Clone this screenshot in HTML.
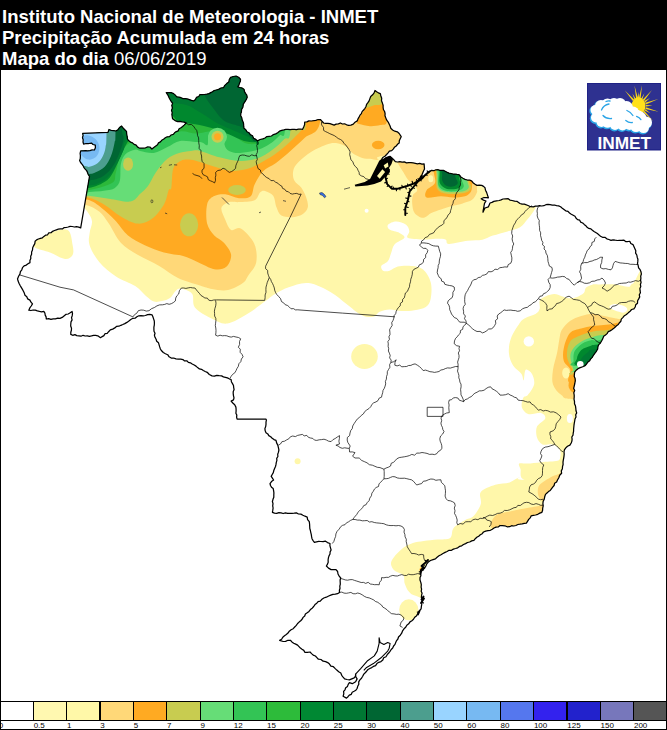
<!DOCTYPE html>
<html><head><meta charset="utf-8"><style>
html,body{margin:0;padding:0;background:#fff}
body{width:667px;height:730px;position:relative;overflow:hidden;font-family:"Liberation Sans",sans-serif}
#hdr{position:absolute;left:0;top:0;width:667px;height:70px;background:#000;color:#fff}
#hdr div{position:absolute;left:2px;font-size:18.5px;font-weight:bold;white-space:nowrap;line-height:21px}
.lb{position:absolute;top:720.5px;font-size:8px;line-height:9px;color:#000;white-space:nowrap}
</style></head><body>
<div id="hdr">
<div style="top:5.5px">Instituto Nacional de Meteorologia - INMET</div>
<div style="top:26.5px">Precipitação Acumulada em 24 horas</div>
<div style="top:47.5px">Mapa do dia <span style="font-weight:normal">06/06/2019</span></div>
</div>
<svg width="667" height="730" viewBox="0 0 667 730" style="position:absolute;left:0;top:0">
<defs><clipPath id="br"><path d="M17.5,278.9 18.6,276.3 20,273.9 20.4,271.6 21.8,269.8 22.5,267.6 24.1,265.9 26.3,265.1 28,263.7 30,262.6 29.9,260.4 30.8,258.4 30.7,256.2 31.6,254.2 31.6,252 32.5,250 32.7,247.7 33.7,245.6 34.8,243.6 35.1,241.3 36.6,239.9 38.4,239 40.4,238.4 42.4,237.8 43.9,236.4 45.5,235.2 47.6,234.8 48.8,232.8 51.1,232.7 52.6,231.3 54.5,230.5 56.4,229.8 58.3,229.2 60.3,228.9 62.4,228.9 64.2,227.6 66.2,227.5 68.2,227 70.1,226.3 72.2,226.5 74.3,227 76.5,226.7 78.7,227.1 80.7,227.9 89.5,176.3 88.2,174.5 87.5,172.4 86.6,170.6 85.2,169.1 84,167.5 83.1,165.7 81.9,164.1 80.6,162.5 79.7,160.7 80.3,158.3 80.4,155.8 80.1,153.3 80.7,150.9 83,150.8 85.3,150.6 87.6,150.9 89.9,150.6 92.1,149.9 94.4,150 95.4,147.7 95.3,145.1 93.1,144.5 91.4,143.1 88.8,143.5 86.2,143.5 83.6,144.1 83,142 83.2,139.8 82.5,137.7 83.1,135.5 82.7,133.4 108,132.4 109,129.5 111.2,130.3 113.5,130.6 115.8,131 118,129.7 119.5,127.5 121.6,126 123.1,128 124.8,129.7 126.5,131.4 126.7,134 127.2,136.6 127.5,139.2 128.9,140.8 130.5,142.1 132.5,142.9 134.1,144.4 136.2,145.1 137.4,146.9 139.2,148 141.4,148 143.5,148.2 145.7,147.8 147.7,146.9 149.9,147 151.9,149 153.8,147.4 155.8,146 157.5,144.8 158.5,142.9 160.4,141.9 161.7,140.3 163.5,139.2 165.3,137.8 167.2,136.8 169.5,136.6 171.1,135 173.3,134.4 174.6,132.8 176.3,131.6 178.2,130.8 179.1,128.7 181,127.7 182.6,126.5 184.1,125.1 186.2,123 184.2,122.1 182.1,121.8 180,121.3 177.7,121.6 175.7,120.9 172.6,118.8 172.2,116.7 171.9,114.6 172.2,112.4 171.5,110.4 172.4,108 171.8,105.5 172.6,103.1 171.2,101.5 170.2,99.8 169.2,98 168.4,96.1 167.4,94.3 166.3,92.6 168.8,92.7 171.2,92.7 173.6,93.6 175.3,95.1 176.8,96.8 178.9,97.1 181,97.7 183,98.6 185.2,98.7 187.3,98.9 189.4,99.6 191.5,100.4 193.6,101 195.4,99.5 196.4,97.4 198.7,96.5 200,94.5 202.3,94.6 204.5,94.5 206.8,94.2 209,93.6 210.7,92.6 212.5,91.7 214.2,90.5 216.2,90 218.6,89.4 220.8,88 223.4,87.7 224.8,85.4 226.7,83.6 228.8,81.9 229.3,79.5 230.6,77.4 233.3,76.5 236,76 238.6,77.2 240.5,79.2 240.4,81.3 239.5,83.1 238.9,85.1 237.8,86.8 240,87.5 242.2,88.1 244.1,89.5 244.5,91.6 245.5,93.4 246.8,95.1 247.2,97.2 246.5,99.1 245.4,100.9 244.3,102.7 243.2,104.4 243,107 241.6,109.4 241.4,112 240.8,113.6 240.7,115.8 241.8,117.8 242.2,119.9 243.1,121.9 243.6,124 243.7,126.2 244,128.3 245.8,129.7 246.9,131.7 249,132.7 250.3,134.6 252.5,135.7 253.6,138.2 255.8,139.4 257.6,140.9 260.1,139.5 262.9,138.8 265,138 266.9,136.6 269.2,136.3 271.5,136 273.4,134.6 275.7,133.9 277.7,132.7 279.5,131.2 281.7,130.4 283.8,129.9 285.8,129.3 288,129.3 290.1,129.6 292.2,129.3 294.3,129.3 296.4,129.6 298.5,129.1 300.5,129 302.6,129.3 303.7,127 304.6,124.6 304.7,122 306.9,121.9 308.9,120.9 311.2,121 313.5,120.7 315.8,120.3 318.1,119.5 320.4,119.5 322,121.3 323.6,123 325.7,123.3 327.9,123.3 330,123.7 332.1,124.4 334.1,125.1 336.1,124.1 338.4,123.9 340.4,123 342.4,124 344.6,123.8 346.6,124.8 348.7,125.3 350.9,125.1 353.3,124.2 355,122.2 357.2,120.9 358,118.9 359,117.1 360,115.2 361.4,113.6 362.1,111.6 363.6,110 365,108.3 366,106.5 366.6,104.4 367.9,102.7 369.1,100.9 369.8,98.9 370.7,96.5 372.6,94.8 374.1,92.9 375,90.5 376.6,91.8 378.4,92.8 380.3,93.6 380.9,96 381.7,98.3 381.5,100.8 382.4,103.1 383.1,105.2 383.1,107.4 383.4,109.5 384.6,111.5 385.1,113.6 385,115.8 385.8,117.9 386.6,119.9 388,121.8 389.1,123.9 390.1,126 390.8,128.3 392.6,130 394.8,131.2 397.3,131.8 399.2,133.5 401.2,136.7 400.2,138.7 399.3,140.7 399.2,143 397.5,144.3 396.2,146 394.4,147.3 393.2,149.1 391.7,150.6 389.4,151.2 388.1,152.9 386.6,154.5 384.9,156.2 382.8,157.5 381.5,159.6 379.7,161.2 381.9,160.6 383.9,159.6 385.7,157.9 387.7,157 389.9,156.3 391.9,157.9 393.7,159.7 395.3,161.7 397.5,162 399.8,161.7 402.1,162.1 404.3,161.9 406.5,162.9 408.8,162.6 411,162.6 413.2,162.9 415.3,163.3 417.5,163.8 419.7,163.4 421.9,164.2 424.1,163.9 424.3,166.4 424.5,168.9 423.4,171.3 422.4,173.7 421.4,176.1 420.5,178.6 418.7,180.6 422,178.5 423.4,176.8 425,175.2 427,173.1 429.5,171.6 431.4,170.4 433.8,170.7 435.8,169.8 437.9,169.7 439.8,170.4 443.4,170.4 445.2,171.3 447,172.2 448.9,173.1 451,173.5 453,174 455,174 457,174.4 459,174.6 460.8,177 462.9,178.3 465,179.4 467.3,180 469.7,180 471.8,181.1 473.3,183 475.1,184.3 476.9,185.4 479.3,185.1 481.7,185.4 483.5,186.4 485,187.8 485.5,190.2 486.6,192.4 487.5,195.1 488.4,197.8 486.2,197.6 484,197.5 481.2,198.7 483.5,200.1 486,201 484.5,203.3 484,206 483.7,208.1 483.2,210.1 483,212.2 484,210.1 485,208 488.4,206.8 489.2,204.9 490,203 492,202.4 493.8,201.4 496.5,200.9 499.2,200.5 501.1,199.8 503,199 505.6,198.8 508.2,198.7 509.9,200.1 512,200.5 514.6,201.2 517.2,201.4 520,203.5 522.1,204.2 524.4,204.1 528,205.5 530.6,206.7 533.4,206.8 535.4,206.1 537.5,206.1 539.6,205.7 541.8,206 543.8,205.7 545.9,204.7 548,204.4 550.1,204.7 552.2,205.1 554.4,205 556.5,205.7 558.6,205.9 560.6,206.8 562.3,208.2 564,209.5 565.7,210.8 568,211.3 569.5,213 571.3,214.2 573.2,215.2 575,216.2 576.1,218.2 577.6,219.6 579.7,220.2 580.7,222.2 582.7,223 584.2,224.4 585.8,225.7 587.1,227.3 588.8,228.4 590.9,228.9 592.4,230.3 594,231.5 595.7,232.5 597.4,233.6 599,234.9 600.5,236.2 602.5,237.3 604.9,237.3 606.8,238.8 608.9,239.5 611,240.4 613.1,239.8 615.2,240.2 617.3,240.5 619.4,240.4 621.5,240.4 623.7,240.1 625.6,241.5 627.8,241.5 629.9,241.4 630.8,243.5 633,244.6 634,246.7 634.9,248.7 635.8,250.7 635.6,253.1 636.8,255 637.2,257.2 637.9,259.2 637.8,261.4 637.5,263.6 638.2,265.6 638.6,267.8 640.1,269.7 641,271.8 641.4,274 640.7,276.1 640.9,278.2 640.6,280.3 641.1,282.4 640.4,284.5 640.8,286.6 639.9,288.6 640.1,290.7 640.4,292.8 639.3,294.8 639.7,296.9 638.7,298.9 637.6,300.8 637.5,303.2 635.7,304.8 635.2,307 633.9,308.8 631.6,309.5 630.2,311.2 628.5,312.6 626.4,314.5 624,316 622.8,317.6 621.3,319.1 620.9,321.2 619.5,322.7 618.3,324.5 616.5,325.7 615,327.2 613.5,328.6 611.9,329.8 610.1,330.9 608.2,331.7 607.1,333.6 605.5,335 603.7,336.2 602.8,338.6 601.7,340.8 600.4,343 598.8,344.6 597.9,346.7 597.7,349 596.4,351.3 594.8,353.3 593.3,355.5 592.2,357.4 590.7,358.9 589.7,360.8 587.9,362.1 586.6,363.8 585.4,365.4 583.5,366.5 580.2,367.6 578,368.7 576.2,370.2 574.7,372 574.4,374.1 574.2,376.3 575.1,378.4 575.3,380.7 574.8,383.5 574.2,386.2 573.7,388.4 574.7,390.6 573.8,392.8 574.2,395 574.2,397.1 574,399.2 574.5,401.5 574.5,403.8 575.5,406 575.8,408.3 576,410.7 576.7,412.9 575.7,414.8 576,417 575,419 574.7,421 574.3,423.1 574,425.2 573.8,427.2 573.6,429.2 573.6,431.2 573.2,433.2 573,435.2 571.8,437 572.1,439.1 571.9,441.1 571.2,443 569.9,445.1 567.5,446.2 565.8,447.9 564.4,449.9 564,451.9 564.2,454 564,456.1 563.7,458.1 563.3,460.2 563,462.2 563.1,464.5 562.5,466.6 562.4,468.8 561.3,470.9 561.6,473.2 559.7,475.2 558.8,477.7 557.5,480 556.6,482 554.6,483.3 554.1,485.5 552.7,487.2 551.4,488.8 550.2,490.5 548.5,491.6 547,493 545.5,494.4 544.7,496.8 544.2,499.3 543.1,501.6 542.9,503.7 543.2,505.9 542.7,508.1 542.6,510.2 541.9,512.3 539.8,513.1 537.8,514.3 535.6,515 533.3,515.4 531.1,515.9 530.2,517.9 528.7,519.4 527.5,521.3 526.4,523.1 524.2,523.3 522.2,523.8 520,524.2 517.9,524.5 515.9,525.5 513.8,526 511.6,525.7 509.6,526.7 507.1,526.8 504.8,525.8 502.4,525.6 500,525.5 498.3,526.9 496,527.1 494,528 492.3,529.2 490.4,530.3 488,530.6 485.7,531.1 483.5,532 482.2,533.7 480.3,534.8 478.7,536.2 476.8,537.3 475.3,538.7 473.9,540.4 471.7,540.9 469.7,542 467.5,542.5 465.6,543.6 463.5,544.5 461.7,545.8 459.5,546.4 457.7,547.8 455.6,548.5 453.4,549.1 451.5,550.3 449.1,550.3 447.1,551.5 445.1,552.4 443,553.5 441,554.7 439,555.8 437.1,557.2 435.4,558.9 433.1,559.6 430.5,560.5 428.3,562 426.8,563.8 425.9,566 424.7,568 422.9,569.8 421.1,571.6 420.5,573.6 420.9,575.7 420,577.6 420,580 420.8,582.4 421.3,584.7 421.1,587.2 421.6,589.2 421.2,591.2 422.1,593.2 421.6,595.2 421.5,597.3 422.3,599.2 422,601.6 421.8,604 421.4,606.4 421.1,608.8 419.7,610.5 418.5,612.2 417.5,614.1 416.4,616 414.7,617.3 413.5,619.3 411.9,620.7 410,621.9 408.7,623.8 406.8,625.2 405.7,627.2 404,628.8 402.6,630.8 401.7,633.2 400.3,635.2 398.5,637 397.9,639 396.6,640.6 395.7,642.5 395,644.4 393.6,646 392.7,648 391.2,649.5 390,651.3 388.7,653 387.2,654.7 386,656.7 383.7,657.8 382.8,660.1 381,661.6 378.8,662.3 376.9,663.6 375.6,665.7 373.4,666.4 371.7,667.6 369.8,668.5 368,669.5 366.6,671.2 365.2,672.7 363.8,674.1 362.7,676.2 361.5,678.2 359.9,679.9 358.7,681.9 358.8,684.3 357.7,686.3 357.1,688.5 355.9,690.2 354.1,691.2 352.2,692.2 351.3,694.3 349.3,695.1 348,696.7 346.5,698.1 343.1,696.2 343.8,693.8 343.6,691.4 345,689.8 345.7,687.7 347.5,686.4 348.2,684.4 349.4,682.7 352.3,683.7 355.6,681.8 357.1,678.9 355.8,676.7 355.6,674.1 355.5,676.2 354.2,677.9 351.8,678.9 349.4,679.9 347,679.5 344.6,678.9 343.1,677.1 341.7,675.3 340.8,673.1 338.7,671.7 336.8,670.1 335,668.4 333.4,666.7 330.9,666.2 329.5,664.1 327.7,662.6 325.6,661.6 323.1,661.2 321,659.5 318.4,659.2 316.9,657.6 315.4,656 313.2,655.1 311.6,653.6 310,652 307.4,652.3 304.8,652.3 303.8,650.4 302,649.3 300.4,648.1 299,646.6 297.6,645.1 295.7,644.1 293.7,643.2 291.9,641.9 290.4,640.3 287.9,640.3 285.6,641.4 283.2,641.5 279.6,640.3 281.6,639.3 282.8,637.2 284.5,635.8 286.3,634.5 288,633.1 289.3,631.2 291.1,629.8 293.2,628.7 294.7,627 296.3,625.4 297.6,623.5 299.1,622.1 300.7,620.8 302.1,619.3 303.1,617.4 304.7,616 305.4,614 307.2,612.8 309,611.4 310.4,609.6 312.2,608.2 313.7,606.5 315,604.6 316.8,603.2 318.1,601.6 320.3,601.2 321.6,599.6 323.8,598 326.3,597.2 328.7,596 330.8,595.1 332.9,594.3 335.3,594.1 337.5,593.7 339.5,592.4 339.4,590.3 340,588.3 339.8,586.2 340.3,584.2 340.2,582.1 340.1,580 340.7,578 339.2,576.1 338,574 337.6,571.5 336,569.6 333.6,569.6 331.1,569.6 328.5,568.1 326.4,566 327.5,564.1 328.2,562.2 328.1,560 328.4,557.9 329,555.9 330,554 330.1,551.9 331.1,550 330.5,547.9 329.9,545.7 330,543.5 327.5,542.6 325.2,541.1 323.1,541.6 320.9,541.5 318.7,541.4 316.5,541.8 314.4,542.3 313.1,540.6 312,538.7 311.6,536.7 311.3,534.6 310.8,532.6 310.4,530.5 309.8,528.5 309.7,526.4 309.6,524.3 309.3,521.7 307.6,519.6 307.2,517.1 305,516.2 302.9,515.2 300.9,514.1 298.4,514 296.4,512.8 294.2,513.2 292,513.3 289.8,513.3 287.6,513.3 285.4,512.8 283.2,513.5 281.1,512.8 278.9,512.6 276.7,513.4 274.5,513.1 272.4,512.3 272.8,510.2 273.1,508 272.7,505.8 273,503.7 272.4,501.5 273,499.3 273.8,497.2 273.8,495 273.9,492.9 273.6,490.7 273.2,488.6 271.5,487.2 270.5,485.5 270,483.5 271.5,481.5 273.6,480 272.4,478.2 271.2,476.4 272.2,474.5 273.3,472.6 273.8,470.5 274.6,468.5 275.5,466.5 276,464.4 276.3,462.4 276.9,460.4 276.7,458.3 277.9,456.5 277.7,454.3 278.4,452.4 278.9,450 278.4,447.6 277.8,445.1 276.6,442.9 276,440.4 274,439.6 272.2,438.2 270.7,436.7 268.8,435.6 267.8,433.9 266,432.7 265.2,430.8 264.9,428.6 265.7,426.5 266,424.3 266,422.1 266.4,420 265.9,419.1 237.1,419.1 236.6,417.1 236.8,415.1 235.9,413.2 236.1,411.1 236.1,409.1 235.9,407.1 234.7,404.8 232.8,403 231.1,401.1 233.5,399.9 234,397.8 233.5,395.8 233.2,393.7 233.2,391.7 234.1,389.6 233.7,387.6 233.5,385.5 232.5,383.6 231.4,381.7 231.1,379.5 229.2,378.8 227.4,377.9 225.4,377.4 223.4,376.9 221.6,375.9 219.2,375.7 216.8,375.4 214.4,376.2 212,375.9 209.3,374.5 207.2,372.3 205.2,371.5 203.3,370.5 201.5,369.3 199.4,368.9 197.6,367.6 196,366.1 194.2,365 192.2,364 190.4,362.8 188.4,362.4 186.8,360.8 184.6,360.9 182.9,359.6 180.8,359.2 178.4,359.2 176,358.9 173.6,358 171.2,358 169.1,356.8 167.7,354.7 165.4,353.7 163.3,352.5 161.6,350.8 160.4,349 159.7,346.9 159.1,344.9 158.5,342.8 156.7,341.2 156.1,339.2 155,337.3 154.4,335.2 155,333.2 154,331.2 153.9,329.2 153.9,327.2 154.3,325.2 154.4,323.2 154.3,321 153.6,318.9 152.9,316.8 152,314.8 149.8,314.4 147.6,314.6 145.4,315.5 143.2,315.8 141,315.6 138.8,315.8 136.9,316.7 135.1,318.2 132.9,318.3 130.8,319.5 128.9,321.1 126.9,322.4 124.8,323.6 122.8,324.5 120.9,325.3 118.9,326.2 116.7,326.3 114.8,327.9 112.7,329.1 110.3,329.9 108.6,331.7 107.2,333.3 105,333.7 103.9,335.6 102.2,336.6 100.5,337.7 97.8,335.8 95.7,335.4 93.6,335.4 91.5,335.9 89.4,336.3 87.3,335.8 85.2,336 83.1,335.3 81,336.2 78.9,335.8 76.8,335.6 74.9,334.6 72.7,335.3 70.8,334.4 70.8,332.3 71.4,330.3 71.5,328.2 70.7,326 70.8,324 71,321.9 72.1,319.9 71.5,317.7 72.2,315.7 72.5,313.6 72.1,311.5 70.2,312.8 68.2,314 65.8,314.4 64,315.9 62.2,317.4 60,318.3 57.7,318.2 55.4,318.8 53.2,318.9 50.9,319.4 48.6,318.6 46.3,319 46.1,316.9 45.2,315.1 44.9,313.1 43.8,311.4 41.6,311.8 39.5,311.4 37.4,310.9 35.3,310.2 33.1,310 30.9,310.5 28.8,310.2 29.8,307.9 31.2,306 32.5,303.9 31,302.2 29.9,300.1 27.7,298.9 26.8,296.7 25,295.2 24.3,293.1 23.3,291 22.3,289.1 21.1,287.1 20,285.2 19,283.2 18.1,281.1 17.5,278.9Z"/></clipPath></defs>
<g clip-path="url(#br)">
<path d="M60,60C128.3,36.7 401.5,45 470,60C538.5,75 469.3,129.2 471,150C472.7,170.8 469.2,175.7 480,185C490.8,194.3 526.7,202.4 536,206C545.3,209.6 536.4,205.9 536,206.7C535.6,207.5 535.2,208.8 533.8,210.9C532.4,213 529.8,216.6 527.5,219.3C525.2,222 523.4,225.2 520.1,227.2C516.8,229.2 512,230 507.5,231.4C503,232.8 497.1,234.2 492.9,235.6C488.7,237 486.6,238.9 482.4,239.8C478.2,240.7 473.3,240.1 467.7,240.8C462.1,241.5 452.5,244.2 448.8,244C445.1,243.8 447.7,240.4 445.5,239.5C443.3,238.6 439.5,238.7 435.7,238.7C431.9,238.7 427.2,239.7 422.5,239.5C417.8,239.3 409.9,239.2 407.7,237.8C405.5,236.4 409.6,233.5 409.3,231.3C409,229.1 408.3,226.3 406.1,224.7C403.9,223 399.2,221.4 396.2,221.4C393.2,221.4 389.1,223.3 388,224.7C386.9,226.1 387.7,228.2 389.6,229.6C391.5,231 397,231.5 399.5,232.9C402,234.3 405.2,235.9 404.4,237.8C403.6,239.7 396.7,241.9 394.5,244.4C392.3,246.9 392.4,249.8 391.3,252.6C390.2,255.3 389.6,258.7 388,260.9C386.4,263.1 382.2,264.2 381.4,265.8C380.6,267.4 381.6,269.9 383,270.7C384.4,271.5 387.1,271.4 389.6,270.7C392.1,270 394.5,267.4 397.8,266.6C401.1,265.8 405.2,265.4 409.3,265.8C413.4,266.2 418.9,266.4 422.5,269.1C426.1,271.8 429.3,277.3 430.7,282.2C432.1,287.1 431.5,294.6 430.7,298.7C429.9,302.8 428.5,305 425.8,306.9C423.1,308.8 418.4,309.5 414.3,310.2C410.2,310.9 405.2,311.1 401.1,311C397,310.9 393.2,309.3 389.6,309.4C386,309.5 382.4,310.6 379.7,311.8C377,313 376.3,316.3 373.2,316.8C370.1,317.3 365.7,317.1 361.2,314.9C356.7,312.7 351.2,307.4 346.2,303.7C341.2,299.9 337.4,295.8 331.2,292.4C324.9,289 315.8,284 308.7,283.1C301.6,282.2 294.4,285.3 288.7,287.2C283,289.1 278.3,292 274.3,294.4C270.3,296.8 269.1,298.4 264.7,301.6C260.3,304.8 254.2,309.9 248,313.6C241.8,317.3 233.5,322.8 227.3,323.6C221.2,324.4 216.5,321 211.1,318.3C205.7,315.6 198.1,311.6 194.9,307.5C191.8,303.4 194.4,297.1 192.2,294C189.9,290.9 184.1,289.2 181.4,288.6C178.7,288.1 177.8,289.1 175.9,290.7C174,292.3 172.3,296.3 170,298C167.7,299.7 164.7,300.4 162,301C159.3,301.6 156.7,302.4 154,301.6C151.3,300.8 149.1,298.6 146,296C142.9,293.4 140.2,289.3 135.2,286C130.2,282.7 122,280.4 116,276.4C110,272.4 103.6,267.2 99.2,262C94.8,256.8 91.2,250 89.6,245.2C88,240.4 89.2,237.2 89.6,233.2C90,229.2 92.4,224.8 92,221.2C91.6,217.6 89.2,214.3 87.2,211.6C85.2,208.9 84.5,206.9 80,205C75.5,203.1 63.3,224.2 60,200C56.7,175.8 -8.3,83.3 60,60Z" fill="#fff7aa"/>
<path d="M35,241C37.5,238.6 44.6,234.8 50,233C55.4,231.2 63.8,228 67.6,230C71.4,232 71.8,240.8 72.6,245C73.4,249.2 73.9,252.7 72.6,255C71.3,257.3 68.8,259.4 65,259C61.2,258.6 55,254.5 50,252.6C45,250.7 37.5,249.5 35,247.6C32.5,245.7 32.5,243.4 35,241Z" fill="#fff7aa"/>
<path d="M60,60C130,36.7 410,45 480,60C550,75 495.6,134.1 480,150C464.4,165.9 403.6,154 386.6,155.6C369.6,157.2 381,159.3 378.2,159.8C375.4,160.3 372.7,159 370,158.7C367.3,158.4 365.1,158.9 362.2,157.9C359.2,156.9 355,154.8 352.3,152.9C349.6,151 348.5,148 345.8,146.3C343.1,144.7 339.2,143.3 335.9,143C332.6,142.7 330.4,143 326,144.7C321.6,146.3 314.4,149.6 309.5,152.9C304.6,156.2 299.1,161.2 296.3,164.5C293.6,167.8 293.3,169.9 293,172.7C292.7,175.4 293.2,178.5 294.6,181C296,183.5 299.3,184.8 301.2,187.6C303.1,190.3 305.1,194.2 306.2,197.5C307.3,200.8 308.4,204.6 307.8,207.3C307.2,210.1 305.4,212.3 302.9,214C300.4,215.7 296.6,216.9 293,217.2C289.4,217.5 284.1,217.2 281.4,215.6C278.6,213.9 277.9,210.6 276.5,207.3C275.1,204 275.1,198.5 273.2,195.8C271.3,193.1 267.2,191.5 265,190.9C262.8,190.3 261.7,190.9 260,192.5C258.3,194.1 258.1,198.6 254.6,200.2C251.1,201.8 243.2,201.8 239,202.1C234.8,202.4 232.1,201.1 229.2,202.1C226.3,203.1 222.1,205.1 221.4,208C220.8,210.9 223.7,216 225.3,219.7C226.9,223.4 228.5,228.5 231.2,230C233.8,231.5 237.3,226.4 241.2,228.7C245,231 251.8,238.1 254.3,243.7C256.8,249.3 257.2,257.1 256.2,262.5C255.1,267.9 250.2,272.6 248,276C245.8,279.4 246.1,280.7 242.8,283C239.5,285.3 233.1,289 228,290C222.9,291 216.7,289.8 212,289C207.3,288.2 205.7,287.3 200,285.5C194.3,283.7 184.8,281.2 178,278C171.2,274.8 165.9,269.9 159.2,266C152.5,262.1 144,258.7 137.6,254.8C131.2,250.9 125.6,248 120.8,242.8C116,237.6 112.4,228.8 108.8,223.6C105.2,218.4 103.2,214.8 99.2,211.6C95.2,208.4 91.3,206.3 84.8,204.4C78.3,202.5 64.1,224.1 60,200C55.9,175.9 -10,83.3 60,60Z" fill="#ffd878"/>
<path d="M60,60C103.3,37.3 276.7,49.6 320,60C363.3,70.4 322.5,109.2 320,122.2C317.5,135.2 309.7,133 304.8,137.8C299.9,142.6 295.2,146.8 290.4,151C285.6,155.2 280.6,159.6 276,163C271.4,166.4 266.4,167.8 262.8,171.4C259.2,175 256.6,180.4 254.6,184.6C252.6,188.8 253.3,194 250.7,196.3C248.1,198.6 243.2,198.5 239,198.2C234.8,197.9 229.5,194.6 225.3,194.3C221.1,194 216.6,194.6 213.6,196.3C210.6,198 208.2,199.9 207.1,204.4C206,208.9 205.9,218.4 207.1,223.6C208.3,228.8 211.5,232.4 214.3,235.6C217.1,238.8 221.1,239.6 223.9,242.8C226.7,246 230.7,250.8 231.1,254.8C231.5,258.8 229.1,264.4 226.3,266.8C223.5,269.2 219.1,270 214.3,269.2C209.5,268.4 202.7,264.2 197.5,262C192.3,259.8 188.7,257.6 183.1,256C177.5,254.4 170.4,254.2 164,252.4C157.6,250.6 150.8,248 144.8,245.2C138.8,242.4 132.8,239.6 128,235.6C123.2,231.6 120.4,225.8 116,221.2C111.6,216.6 106.4,211.6 101.6,208C96.8,204.4 94.1,201.6 87.2,199.6C80.3,197.6 64.5,219.3 60,196C55.5,172.7 16.7,82.7 60,60Z" fill="#ffaa22"/>
<path d="M60,60C101,37.5 265,49.4 306,60C347,70.6 306.8,111.6 306,123.4C305.2,135.2 303.8,127.6 301.2,130.6C298.6,133.6 294.6,137.6 290.4,141.4C286.2,145.2 281.4,149.6 276,153.4C270.6,157.2 262.9,161.6 258,164.2C253.1,166.8 251.3,167.9 246.8,169C242.3,170.1 236.4,171.2 231.2,170.9C226,170.6 220.8,168.5 215.6,167C210.4,165.5 204.1,163.2 200,162C195.9,160.8 194,159.9 190.8,159.7C187.7,159.5 184,159.2 181.1,160.7C178.2,162.2 174.9,163.9 173.3,168.5C171.7,173.1 172.1,184.4 171.3,188C170.5,191.6 169.9,187.3 168.7,190C167.5,192.7 166.8,199.6 164,204.4C161.2,209.2 156.4,215.6 152,218.8C147.6,222 142.8,224 137.6,223.6C132.4,223.2 126.4,219.6 120.8,216.4C115.2,213.2 109.6,207.6 104,204.4C98.4,201.2 94.5,198.8 87.2,197.2C79.9,195.6 64.5,217.9 60,195C55.5,172.1 19,82.5 60,60Z" fill="#c8cc50"/>
<path d="M60,60C98.4,37.7 252,48.2 290.4,60C328.8,71.8 291.4,117.4 290.4,130.6C289.4,143.8 287.4,135.8 284.4,139C281.4,142.2 276.8,146.6 272.4,149.8C268,153 263.4,156.3 258,158.2C252.6,160.1 246.4,161.2 240,161C233.6,160.8 226.2,159 219.5,157.3C212.8,155.6 204.8,152 200,150.9C195.2,149.8 194.3,150.6 190.8,150.9C187.3,151.2 183,151.6 179.1,152.9C175.2,154.2 171.3,155.4 167.4,158.7C163.5,161.9 159,167.8 155.8,172.4C152.6,177 150.6,182.4 148,186C145.4,189.6 143.1,191.2 140.2,193.8C137.3,196.4 135.6,200.8 130.4,201.6C125.2,202.4 116,199.7 109,198.7C102,197.7 96.7,196.6 88.5,195.8C80.3,195 64.8,216.6 60,194C55.2,171.4 21.6,82.3 60,60Z" fill="#66dd77"/>
<path d="M60,60C97.5,38 247.5,48.5 285,60C322.5,71.5 285.9,116.4 285,129C284.1,141.6 282.1,132.9 279.6,135.4C277.1,137.9 273.6,141.4 270,143.8C266.4,146.2 263,148.3 258,149.8C253,151.3 244.8,152.8 240,153C235.2,153.2 231.6,152.4 229,151C226.4,149.6 225,147.1 224.5,144.5C224,141.9 226.8,138.2 226.2,135.7C225.6,133.2 223,130.5 221,129.5C219,128.5 216.1,128.6 214,129.5C211.9,130.4 209.6,132.4 208.5,135C207.4,137.6 208.6,143.8 207.5,145C206.4,146.2 204,143 202,142.5C200,142 199.4,142.3 195.7,142C192,141.7 184.7,140.1 180,140.9C175.3,141.7 171.8,145 167.4,147C163,149 158.3,152.2 153.8,152.9C149.3,153.6 143.3,151.4 140.2,150.9C137.1,150.4 137.5,149.1 135,149.7C132.5,150.2 127.8,151.8 125.4,154.2C123.1,156.6 121.8,159.8 120.9,164.1C120,168.4 120.8,176.2 120,180C119.2,183.8 117.8,185.3 116,187C114.2,188.7 113.4,189.2 109,190C104.6,190.8 97.7,191.6 89.5,191.9C81.3,192.2 64.9,214 60,192C55.1,170 22.5,82 60,60Z" fill="#33c455"/>
<path d="M60,60C92.8,38.3 224.2,47 257,60C289.8,73 256.8,124.2 257,138C257.2,151.8 259.2,142 258,143C256.8,144 252.5,144.3 250,144.1C247.5,143.9 245.9,143.6 243,142C240.1,140.4 235.5,136.6 232.5,134.7C229.5,132.8 227.7,131.3 225.1,130.4C222.5,129.5 219.5,129.2 216.7,129.4C213.9,129.6 211.8,130.8 208.3,131.5C204.8,132.2 200.4,133.6 195.7,133.6C191,133.6 185.9,130.6 180,131.5C174.1,132.4 165,136.9 160,139C155,141.1 153.5,142.5 150,144C146.5,145.5 141.7,147.9 139.2,148C136.7,148.1 136.7,145.1 135,144.3C133.3,143.5 131.2,142.2 129,143.4C126.8,144.6 123.6,148.3 121.8,151.5C120,154.7 119.2,158.6 118.2,162.3C117.2,166.1 116.5,170.6 115.5,174C114.5,177.4 116.5,180.3 112,183C107.5,185.7 97.2,188.8 88.5,190C79.8,191.2 64.8,211.7 60,190C55.2,168.3 27.2,81.7 60,60Z" fill="#2cb83a"/>
<path d="M60,60C92.8,38.7 224.2,47 257,60C289.8,73 256.8,124.3 257,138C257.2,151.7 260.2,141.5 258,142C255.8,142.5 248.8,142.1 244,140.9C239.2,139.7 234.6,136.7 229.3,134.6C224.1,132.5 218.4,130.1 212.5,128.3C206.6,126.6 199.2,125.1 193.6,124.1C188,123 182.6,123.4 178.9,122C175.2,120.6 174.7,116 171.5,115.7C168.3,115.4 166.1,116 160,120C153.9,124 140.2,136.6 135,140C129.8,143.4 130.6,139.7 129,140.7C127.4,141.7 126.9,143.2 125.4,146.1C123.9,148.9 122,153.6 120,157.8C118,162 116,167.4 113.7,171.3C111.4,175.2 110.2,178.2 106,181C101.8,183.8 96.2,186.8 88.5,188C80.8,189.2 64.8,209.3 60,188C55.2,166.7 27.2,81.3 60,60Z" fill="#00882e"/>
<path d="M60,60C92.7,39 223.3,47 256,60C288.7,73 255.7,124.5 256,138C256.3,151.5 258.9,141.1 257.6,140.9C256.3,140.7 252.2,138.4 248.2,136.7C244.2,134.9 238.4,132.5 233.5,130.4C228.6,128.3 224.1,126.9 218.8,124.1C213.6,121.3 207.2,116.8 202,113.6C196.8,110.4 192.2,107 187.3,105.2C182.4,103.5 177.2,104 172.6,103.1C168,102.2 167.6,94.2 160,100C152.4,105.8 133.3,129.7 127.2,138C121.1,146.3 125.2,145.5 123.6,149.7C121.9,153.9 119.7,158.8 117.3,163.2C114.9,167.5 112.2,172.5 109.2,175.8C106.2,179.1 102.5,181.4 99,183C95.5,184.6 95,185 88.5,185.5C82,186 64.8,206.9 60,186C55.2,165.1 27.3,81 60,60Z" fill="#007a33"/>
<path d="M200,60C208.8,55 246.5,47 256,60C265.5,73 259,126.6 257,138C255,149.4 247.6,130.5 244,128.3C240.4,126.2 239.1,126.5 235.6,125.1C232.1,123.7 226.8,122.9 223,119.9C219.2,116.9 215.3,111 212.5,107.3C209.7,103.6 207.6,100.9 206,98C204.4,95.1 204,96.3 203,90C202,83.7 191.2,65 200,60Z" fill="#006633"/>
<path d="M60,60C70.3,39.7 111.5,49 121.8,60C132.1,71 121.5,113.3 121.8,126.3C122.1,139.3 123.9,133.8 123.6,138C123.3,142.2 121.7,147 120,151.5C118.3,156 116.2,161.1 113.7,165C111.2,168.9 108.5,172.4 104.7,174.9C101,177.4 98.7,178.8 91.2,180C83.8,181.2 65.2,202 60,182C54.8,162 49.7,80.3 60,60Z" fill="#006633"/>
<path d="M60,60C69.2,41 106.2,48.1 115.5,60C124.8,72 115.7,117.9 115.5,131.7C115.3,145.4 115.3,138.4 114.6,142.5C113.8,146.6 112.7,151.9 111,156C109.3,160.1 107.2,164.1 104.7,166.8C102.2,169.5 98.6,171 95.7,172.2C92.8,173.4 93.5,173.7 87.6,174C81.6,174.3 64.6,193 60,174C55.4,155 50.8,79 60,60Z" fill="#4c9e8e"/>
<path d="M60,60C67.8,42.5 99.2,47.8 107,60C114.8,72.2 106.7,119 106.5,133.5C106.3,148 106.2,143.2 105.6,147C105,150.8 104.2,153.3 102.9,156C101.6,158.7 99.8,161.4 97.5,163.2C95.2,165 91.7,166.4 89.4,166.8C87.2,167.2 88.9,166.2 84,165.9C79.1,165.6 64,182.7 60,165C56,147.3 52.2,77.5 60,60Z" fill="#99d4ff"/>
<path d="M83,137C84.8,134.9 86.4,135.1 88.5,135.5C90.6,135.9 93.9,137.5 95.7,139.3C97.5,141.1 98.8,143.8 99.3,146.1C99.8,148.4 99.2,151.4 98.4,153.3C97.7,155.2 96.5,156.8 94.8,157.8C93.1,158.9 90.6,159.9 88.5,159.6C86.4,159.3 84,157.9 82.2,156C80.5,154.1 77.9,151.2 78,148C78.1,144.8 81.2,139.1 83,137Z" fill="#77b9f2"/>
<ellipse cx="128.1" cy="164.1" rx="5" ry="6.7" fill="#c8cc50"/>
<ellipse cx="217.5" cy="136.8" rx="9.5" ry="9" fill="#66dd77"/>
<ellipse cx="217.5" cy="136.8" rx="6" ry="6" fill="#c8cc50"/>
<ellipse cx="217.5" cy="136.8" rx="3.5" ry="3.5" fill="#ffaa22"/>
<ellipse cx="189.1" cy="224.8" rx="9.1" ry="11.5" fill="#c8cc50"/>
<ellipse cx="237" cy="190" rx="8.8" ry="4.9" fill="#c8cc50"/>
<path d="M357.2,122C357.9,119.9 361.4,115 363.5,111.5C365.6,108 367.7,104.6 369.8,101C371.9,97.4 373.9,89.7 376,90C378.1,90.3 380.6,97.8 382.4,103.1C384.2,108.4 387,118.3 386.6,122C386.2,125.7 383.1,124.4 380.3,125.1C377.5,125.8 373.3,126.4 369.8,126.2C366.3,126 361.4,124.8 359.3,124.1C357.2,123.4 356.5,124.1 357.2,122Z" fill="#ffaa22"/>
<path d="M365.6,107.3C365.3,105.6 369.9,98.2 372,95C374.1,91.8 376.3,86.7 378,88C379.7,89.3 383.1,100.1 382.4,103C381.7,105.9 376.8,104.5 374,105.2C371.2,105.9 365.9,109 365.6,107.3Z" fill="#c8cc50"/>
<ellipse cx="378.2" cy="145" rx="6.3" ry="4.2" fill="#ffaa22"/>
<path d="M400,150C411.8,145.8 463.2,143.9 476,150C488.8,156.1 476.8,179.5 476.9,186.6C477,193.7 477.7,190.4 476.9,192.6C476.1,194.8 474.5,198 472.1,199.8C469.7,201.6 465.8,202.4 462.6,203.4C459.4,204.4 456.6,204.8 453,205.8C449.4,206.8 444.6,208.2 441,209.4C437.4,210.6 434.4,211.6 431.4,213C428.4,214.4 425.8,217.8 423,217.8C420.2,217.8 416.4,215.4 414.6,213C412.8,210.6 412.5,206.4 412.2,203.4C411.9,200.4 412.2,197.4 413,195C413.8,192.6 418.3,192.3 417,189C415.7,185.7 407.8,181.5 405,175C402.2,168.5 388.2,154.2 400,150Z" fill="#ffd878"/>
<path d="M433.8,160C440.2,158 465.7,156.6 472.1,160C478.5,163.4 472.1,176.6 472.1,180.6C472.1,184.6 472.3,182.4 472.1,184.2C471.9,186 472.2,189.4 471,191.4C469.8,193.4 468,195.2 465,196.2C462,197.2 457,197.4 453,197.4C449,197.4 445.4,196.2 441,196.2C436.6,196.2 429,198.4 426.6,197.4C424.2,196.4 425.2,192.6 426.6,190.2C428,187.8 433.8,186 435,183C436.2,180 434,176 433.8,172.2C433.6,168.4 427.4,162 433.8,160Z" fill="#ffaa22"/>
<path d="M436.2,160C441.6,157.8 463.2,156.6 468.6,160C474,163.4 468.2,176.4 468.6,180.6C469,184.8 470.8,183.8 471,185.4C471.2,187 471.1,188.9 469.7,190.2C468.3,191.5 466.4,192.6 462.6,193.2C458.8,193.8 451.2,194.5 447,193.8C442.8,193.1 439.2,192.4 437.4,189C435.6,185.6 436.4,178.2 436.2,173.4C436,168.6 430.8,162.2 436.2,160Z" fill="#c8cc50"/>
<path d="M437.4,160C441.4,157.6 456.4,156.4 461.4,160C466.4,163.6 466.2,177.2 467.4,181.8C468.6,186.4 469.4,186.2 468.6,187.8C467.8,189.4 466.2,190.7 462.6,191.4C459,192.1 451,192.6 447,192C443,191.4 440.2,190.7 438.6,187.8C437,184.9 437.6,179.2 437.4,174.6C437.2,170 433.4,162.4 437.4,160Z" fill="#66dd77"/>
<path d="M438.6,160C442.4,158.8 457.6,162 461.4,165C465.2,168 461,174.6 461.4,178.2C461.8,181.8 464.4,184.5 463.8,186.6C463.2,188.7 460.8,190.1 457.8,190.8C454.8,191.5 449,191.7 445.8,190.8C442.6,189.9 439.8,188.5 438.6,185.4C437.4,182.3 438.6,176.4 438.6,172.2C438.6,168 434.8,161.2 438.6,160Z" fill="#33c455"/>
<path d="M439.8,165C443,163.8 455.8,163.2 459,165C462.2,166.8 458.8,172.4 459,175.8C459.2,179.2 460.8,183.2 460.2,185.4C459.6,187.6 457.8,188.5 455.4,189C453,189.5 448.4,189.4 445.8,188.4C443.2,187.4 440.8,185.7 439.8,183C438.8,180.3 439.8,175.2 439.8,172.2C439.8,169.2 436.6,166.2 439.8,165Z" fill="#00882e"/>
<path d="M442.2,168C444.4,166.9 453.2,166.5 455.4,168C457.6,169.5 455,174.5 455.4,177C455.8,179.5 458.2,181.4 457.8,183C457.4,184.6 455,186.2 453,186.6C451,187 447.6,186.4 445.8,185.4C444,184.4 442.8,182.4 442.2,180.6C441.6,178.8 442.2,176.7 442.2,174.6C442.2,172.5 440,169.1 442.2,168Z" fill="#006633"/>
<ellipse cx="430.8" cy="178.8" rx="2.5" ry="3.5" fill="#fff7aa"/>
<path d="M539.7,300.4C540.8,298.3 543.5,297.2 546,296.2C548.5,295.1 551.8,294.1 554.4,294.1C557,294.1 559.2,295.5 561.7,296.2C564.2,296.9 566.7,298.1 569.1,298.3C571.5,298.5 574,298.2 576.4,297.3C578.8,296.4 582.2,294.7 583.8,293.1C585.4,291.5 584.5,289.2 585.9,287.8C587.3,286.4 590.2,285.2 592.2,284.7C594.2,284.1 594.3,284.5 598.1,284.5C601.9,284.5 609.9,284.1 615,284.5C620.1,284.9 625.5,286.9 628.5,286.7C631.5,286.5 629.4,284.8 633,283.4C636.6,281.9 647.2,245.2 650,278C652.8,310.8 665.4,446.3 650,480C634.6,513.7 578.4,480 557.5,480C536.6,480 530.9,481.8 524.7,480C518.5,478.2 521.4,471.7 520.5,469C519.6,466.3 518.1,464.5 519.2,463.6C520.4,462.7 523.8,463.8 527.4,463.6C531,463.4 536.1,462.7 541.1,462.2C546.1,461.7 554.3,461.7 557.5,460.8C560.7,459.9 559.8,458.3 560.3,456.7C560.8,455.1 560.8,452.8 560.3,451.2C559.8,449.6 558.9,448.2 557.5,447.1C556.1,446 554.6,444.8 552.1,444.4C549.6,443.9 545,445.5 542.5,444.4C540,443.2 537.9,440.5 537,437.5C536.1,434.5 535.6,429.8 537,426.6C538.4,423.4 544.5,420.7 545.2,418.4C545.9,416.1 543.8,413.6 541.1,412.9C538.4,412.2 532,415.1 528.8,414.2C525.6,413.3 522.8,410.1 521.9,407.4C521,404.7 522.3,399.9 523.3,397.8C524.3,395.7 526,397.2 527.8,395C529.6,392.8 533.4,388 534.1,384.5C534.8,381 533.4,376.4 532,374C530.6,371.6 527.1,368.8 525.7,369.8C524.3,370.9 524.3,379.6 523.6,380.3C522.9,381 523.2,376.4 521.5,374C519.8,371.6 515.2,369.1 513.1,365.6C511,362.1 509.2,357.6 508.9,353C508.5,348.4 509.2,343.2 511,338.3C512.8,333.4 517.1,326.9 519.4,323.6C521.7,320.3 522.3,319.9 525,318.3C527.7,316.7 533,315.7 535.5,314.1C538,312.5 539,311.1 539.7,308.8C540.4,306.5 538.7,302.5 539.7,300.4Z" fill="#fff7aa"/>
<ellipse cx="528.8" cy="341.4" rx="5.2" ry="5.2" fill="#ffffff"/>
<ellipse cx="569.9" cy="418.4" rx="3" ry="4.5" fill="#ffffff"/>
<path d="M609.5,307C609.3,305.9 611.8,304.2 614,304C616.2,303.8 620.6,304.7 622.8,305.5C625,306.3 627.1,307.8 627.3,309C627.5,310.2 626,312.4 624,312.6C622,312.9 617.4,311.4 615,310.5C612.6,309.6 609.7,308.1 609.5,307Z" fill="#ffffff"/>
<path d="M640,322C637,308.7 625.9,320 621.7,319.4C617.5,318.8 618,318.8 615,318.2C612,317.6 607.5,316.8 603.7,316C600,315.2 596.2,313.7 592.5,313.7C588.8,313.7 585,314.8 581.2,316C577.5,317.2 573.2,318.7 570,321C566.8,323.3 563.5,327 561.7,330C559.9,333 560.2,335.2 559.4,339.1C558.6,343 558.1,348.2 557,353.3C555.9,358.4 553.7,364.6 553,369.8C552.3,375 551.6,380.3 553,384.5C554.4,388.7 557.9,392.6 561.4,395C564.9,397.4 560.9,398.5 574,399.2C587.1,399.9 629,411.9 640,399C651,386.1 643,335.3 640,322Z" fill="#ffd878"/>
<ellipse cx="566" cy="373" rx="3.8" ry="5.5" fill="#fff7aa"/>
<path d="M640,322C636.4,311.1 622.9,322.4 618.4,322.7C613.9,323 615.2,323.5 612.7,323.9C610.2,324.3 607.1,324.6 603.7,325C600.3,325.4 596.2,325.5 592.5,326.1C588.8,326.7 585,327.3 581.2,328.4C577.5,329.5 572.9,329.6 570,332.9C567.1,336.1 564.8,343.2 563.8,347.9C562.8,352.6 562.7,357.4 563.8,361C564.9,364.6 569.6,366.5 570.3,369.8C571,373.1 567.5,378 568.1,380.7C568.7,383.4 572.5,384.9 573.6,386.2C574.8,387.5 563.9,388.4 575,388.7C586.1,389 629.2,399.1 640,388C650.8,376.9 643.6,332.9 640,322Z" fill="#ffaa22"/>
<path d="M640,330C634,322.6 611.6,330.3 603.7,330.6C595.8,330.9 596.2,330.9 592.5,331.7C588.8,332.4 585,333.4 581.2,335.1C577.5,336.8 572.4,338.2 570,341.8C567.6,345.4 566.6,351.9 567,356.6C567.4,361.3 571.3,366.7 572.5,369.8C573.7,372.9 562.8,374.1 574,375C585.2,375.9 629,382.5 640,375C651,367.5 646,337.4 640,330Z" fill="#c8cc50"/>
<path d="M640,334C633.8,327.9 610.5,334.6 602.6,335.1C594.7,335.7 595.9,336.3 592.5,337.3C589.1,338.3 585.5,339.2 582.4,341C579.2,342.8 575.6,345.4 573.6,348C571.6,350.6 570.3,353 570.3,356.6C570.3,360.2 572.8,367.2 573.6,369.8C574.4,372.4 563.9,371.6 575,372C586.1,372.4 629.2,378.3 640,372C650.8,365.7 646.2,340.1 640,334Z" fill="#66dd77"/>
<path d="M640,335C633.1,330.7 606.9,339.3 598.8,340.2C590.6,341.1 593.8,339.6 591.1,340.2C588.4,340.8 585.1,341.7 582.4,343.5C579.7,345.3 576.2,348.2 574.7,351.1C573.2,354 573.4,358.5 573.6,361C573.8,363.5 564.9,365.2 576,366C587.1,366.8 629.3,371.2 640,366C650.7,360.8 646.9,339.3 640,335Z" fill="#33c455"/>
<path d="M640,340C633,336.4 605.9,343.7 597.7,344.6C589.6,345.6 593.8,344.8 591.1,345.7C588.4,346.6 583.7,347.8 581.3,350C578.9,352.2 577.1,356.1 576.9,358.8C576.7,361.5 569.5,364.8 580,366C590.5,367.2 630,370.3 640,366C650,361.7 647,343.6 640,340Z" fill="#00882e"/>
<path d="M640,345C632.6,342.2 604.2,347.8 595.5,349C586.8,350.2 590.3,350.6 587.9,352.2C585.5,353.8 582.1,356.5 581.3,358.8C580.5,361.1 573.2,364.8 583,366C592.8,367.2 630.5,369.5 640,366C649.5,362.5 647.4,347.8 640,345Z" fill="#007a33"/>
<ellipse cx="580.3" cy="364.3" rx="3.3" ry="3.3" fill="#ffffff"/>
<path d="M568.5,385.5C568.6,388.4 570.7,391.2 572.6,392.3C574.5,393.4 578.8,395.7 580,392C581.2,388.3 581.3,372.8 580,370C578.7,367.2 573.9,372.4 572,375C570.1,377.6 568.4,382.6 568.5,385.5Z" fill="#ffaa22"/>
<path d="M524.7,480C511.2,479.6 521.7,477.2 519.2,477.6C516.7,478 513.6,481.2 509.6,482.4C505.6,483.6 500,483.2 495.2,484.8C490.4,486.4 483.2,488.8 480.8,492C478.4,495.2 482,500 480.8,504C479.6,508 476.1,513.4 473.6,516C471.2,518.6 469.1,517.9 466.1,519.6C463.1,521.3 457.9,524.3 455.6,526C453.4,527.7 453.6,528 452.6,530C451.7,532 452.4,536.6 449.9,538.2C447.4,539.8 441.9,539.1 437.5,539.6C433.1,540.1 427.9,540.4 423.8,541C419.7,541.6 416.3,541.9 412.9,543C409.5,544.1 406.5,545.4 403.3,547.8C400.1,550.2 395.8,554.7 393.7,557.4C391.6,560.1 390.8,561.9 391,564.2C391.2,566.5 393.1,569.3 395.1,571.1C397.2,572.9 401.7,573.2 403.3,575.2C404.9,577.2 403.8,580.7 404.7,583.4C405.6,586.1 407,589.5 408.8,591.6C410.6,593.7 412.1,595.1 415.6,595.8C419.1,596.5 425.9,602 430,596C434.1,590 411.7,579.3 440,560C468.3,540.7 585.9,493.3 600,480C614.1,466.7 538.2,480.4 524.7,480Z" fill="#fff7aa"/>
<ellipse cx="408.8" cy="609.8" rx="9.6" ry="10.5" fill="#fff7aa"/>
<path d="M495.2,516C498,512.9 505.2,512.7 512,511.1C518.8,509.5 530.3,507.2 536,506.4C541.7,505.5 544.3,502.1 546,506C547.7,509.9 554.5,526 546,530C537.5,534 503.5,532.3 495,530C486.5,527.7 492.4,519.1 495.2,516Z" fill="#ffd878"/>
<path d="M538.3,487.2C539.5,483.2 546.9,479.8 550.3,477.6C553.7,475.4 555.1,475.6 558.7,474C562.3,472.4 569.8,462.8 572,468C574.2,473.2 576.8,499.4 572,505C567.2,510.6 548.7,504.6 543.1,501.6C537.5,498.6 537.1,491.2 538.3,487.2Z" fill="#ffd878"/>
<ellipse cx="421.5" cy="569.7" rx="2" ry="2.5" fill="#ffaa22"/>
<ellipse cx="297.6" cy="461.2" rx="3" ry="3" fill="#fff7aa"/>
<ellipse cx="364.5" cy="356.5" rx="13.3" ry="12.5" fill="#fff7aa"/>
<ellipse cx="366.6" cy="210.7" rx="2" ry="2" fill="#ffffff"/>
</g>
<g fill="none" stroke="#000" stroke-width="0.7" stroke-linejoin="round">
<path d="M20,275 60,287.2 73.5,289.9 132.9,316.9"/>
<path d="M132.9,316.9 134.5,314.7 136.9,313.1 138.3,310.7 141,310 143.7,310.2 146.3,311.1 149,310.7 151.5,308.7 154.4,307.5 156.9,305.9 159.5,304.9 162.5,304.8 164.7,304.4 166.8,303.6 169.1,304.3 171.3,303.7 173.3,302.6 175.4,300.9 175.7,298.1 176.8,295.8 178.7,294 179.4,290.7 181.4,288 183.7,288 185.9,288.4 188.2,287.9 190.4,287.5 192.7,287.9 194.9,288 196.4,289.9 197.9,291.7 199.5,293.5 200.9,295.4 203,296.7 204.9,298 207.3,298.1 208.8,300.2 211.1,300.7 213.7,300 216.5,299.9 264.7,300.4 265.1,297.7 265.1,295 266,292.3 265.9,289.6 266,287.1 266.7,284.7 267.3,282.3 268.3,280"/>
<path d="M257.6,140.9 258.1,143.2 256.7,145.5 257.2,147.8 257.5,150.2 257.3,152.5 256.2,154.7 256.9,157.1 257.3,159.4 256.2,161.7 256.6,164 257.4,166.2 258,168.6 260.4,170 260.8,172.4 262.9,173.9 264.7,176 266.8,177.6 269.2,178.7 270.9,180.6 273.8,180.6 275.6,182.2 277.9,183.2 279.6,185 281.7,186 282.6,188.4 284.8,189.3 286.1,191.2 288.5,191.8 290.1,193.4 292.3,194.1 294.5,193.6 296.8,193.4 299,194.4 301.2,194 290,217.5 278.7,240 265.6,266.2 265.6,268.7 267.7,270.5 267.7,273 268.4,275.3 269.3,277.5 268.3,280"/>
<path d="M269.3,277.5 270.7,279.4 271.4,281.6 272.6,283.6 273.5,285.7 274.3,287.9 274.7,290.2 275.5,292.4 276.7,294.4 278.7,296.5 280.6,298.7 281.5,301.6 283.6,302.8 285.2,304.7 287.6,305.5 289.4,307.1 291.1,308.8 293.4,308.6 295.5,309.9 297.8,309.8 300,310 342.4,313.1 394.9,316.8"/>
<path d="M215.6,300.4 216,303.2 215.7,305.9 214.9,308.5 214.4,311.2 214.6,313.6 214.6,316 215.8,318.3 215.9,320.7 215.6,323.2 215.3,325.6 215.8,328 216,330.4 215.9,332.8 215.6,335.2 217.8,336.1 220.1,335.2 222.3,335.8 224.6,335.6 226.8,335.8 229,336.7 231.2,337.1 233.5,336.4 236,337 238.5,337.5 240.7,338.8 239.5,341.5 239.6,344.5 238.3,347.2 240.3,349.2 240.1,352.3 242,354.3 243.1,356.8 241.4,359 240.8,361.7 238.9,363.7 238.3,366.4 237,368.4 236,370.7 234.8,372.8 232.7,374.3 231.2,376.2 230,378.3"/>
<path d="M186.2,123 188.4,124.7 191.4,124.5 193.6,126.2 195,128.4 196.7,130.4 197.3,132.9 197.5,135.4 198.6,137.9 198.7,140.4 198.8,143 199.3,145.6 199.1,148.4 201,150.7 200.9,153.5 201.6,156 201.7,158.7 202.1,161.3 204,163.5 204.1,166.1 204,168.4 202,170.1 202,172.4 203.1,174.7 205.4,175.7 207.6,176.9 208.2,179.6 210.4,180.8 212.6,181.7 214.6,182.9 215.5,180.3 215.3,177.7 215.9,175.1 215.6,172.4 217.8,170.5 220.8,170 223,168.2 225.4,169.2 227.3,170.9 229.3,172.4 231.7,171.5 233.8,170.1 235.6,168.2 235.8,165.9 236.5,163.8 237.5,161.8 238.4,159.8 238.9,157.6 239.8,155.6 242.2,155 244.6,155.2 247,156 249.4,156.3 251.8,154.8 254.2,155.7 256.6,155.6"/>
<path d="M192.5,173.4 194.6,174.8 197,175.5 199.9,176.4 202,178.7"/>
<path d="M321.5,122 321.6,124.9 323.5,127.4 323.6,130.4 325.6,131.6 327.8,132.6 329.8,133.7 332,134.6 334.3,135.6 336.3,137 338.2,138.5 340.5,139.5 342.5,140.9 343.9,143.2 345.7,145 347.3,147.1 348.8,149.3 350.1,151.8 349.7,154.6 350.4,157.2 350.9,159.8 352.8,161.6 353.7,164.3 355.2,166.4 357.2,168.2 358,170.3 359.1,172.2 359.3,174.5 361.4,175.9 363.9,176.7 365.6,178.7 368.1,179.3 370,181"/>
<path d="M460,175 460.2,177.5 460.9,180 460.5,182.5 460.5,185 459.3,187.3 458.9,190 457,192 456,194 455.4,196.2 455.3,198.8 453.4,200.9 453,203.4 451.8,205.7 451.4,208.2 450.6,210.6 450.1,213.1 448.2,214.8 447.2,217 445.8,219 443.9,220.6 443.9,223.3 442.2,225 440.1,226 438.3,227.2 436.8,228.9 435.1,230.3 434,232.5 432,233.5 429.4,234.4 427.8,236.7 425.2,237.6 423.6,239.8 421.6,241.1 421.2,243.6 419.4,245"/>
<path d="M419.4,245 421.2,246.7 423.2,248.3 426.1,248.4 427.8,250.3 427.2,252.7 425.6,254.8 425.7,257.5 423.6,259.4 423.4,262 421.8,263.9 419.4,264.8 418.3,267.2 416.1,268.3 413.8,269.4 412.4,271.5 412.3,274.2 411.7,276.7 410.8,279.2 410.5,281.8 409.7,284.3 409.5,286.8 408.4,289 407.5,291.3 405.4,293 404.9,295.4 404.3,297.8 402.6,299.4 402.5,301.9 400.4,303.3 400.2,305.9 398.5,307.4 397.2,309.3 396.2,311.3 395.7,313.7 394.1,315.7 393.8,318.2 393,320.5 391.7,322.7 392.2,325.4 390.8,327.5 389.6,329.7 389.9,332.2 390,334.6 388.9,336.8 389.5,339.3 387.9,341.5 388.3,343.9 388.1,346.3 388.7,348.6 388.4,351 389.4,353.2 390.2,355.5 389.6,357.9 391.2,360.1 390.8,362.5 389.6,364.7 389.9,367.3 388.5,369.5 387.3,371.7 387.3,374.3 386.5,376.6 386.4,379.1 385.4,381.4 385.7,383.9 385.1,386.1 384.3,388.3 383,390.4 382.7,392.7 382,394.9 381.5,397.2 379.2,398.1 378,400.6 376,401.9 373.7,402.8 371.9,404.4 370.7,406.8 368.9,408.6 366.7,410 364.7,411.6 363.4,413.9 361.3,415.4 359.6,417.3 357.5,418.8 355.8,421.1 354.2,423.5 352.7,426 352.3,428.5 350.7,430.6 350,433 349.6,435.6 347.4,437.4 347.2,440 347.8,442.4 350.2,446 349.3,448.4"/>
<path d="M421.5,242.9 424,242.9 426.4,243.2 428.8,243.6 431.1,245 433.4,245.8 435.8,246.1 438.3,246.1 439,248.7 439.7,251.3 440.7,253.8 440.4,256.6 439.7,258.8 439.3,261 439.2,263.4 438.2,265.5 438.1,267.8 437.5,270 437.2,272.8 438.3,275.4 439.3,277.4 441.2,278.7 441.6,281.1 444.1,282.1 444.8,284.3 447.1,285 449.5,285.5 452,285.9 454.2,287 454.5,289.8 452.9,292.3 452.9,295.1 452.2,297.6 450.1,299.1 448.2,300.8 447.5,303.2 448.9,305.1 449.6,307.3 449.7,309.7 450.7,311.8 451.5,314 452.9,315.8 454.4,317.6 456.8,318.5 458.2,320.3 459.6,322.1 461.9,322.2 464.2,322.2 466.3,323.4"/>
<path d="M390.8,362.5 393.8,361.7 396.2,359.8 395,362.4 394.8,365.2 397.1,365.9 399.7,365.1 401.8,366.8 404.3,366.6 406.6,366.5 408.6,365.5 410.9,365.4 412.9,364.4 415.1,363.9 417.4,365.2 419.6,366.7 421.5,368.6 423.2,370.6 425.5,370.1 427.7,370.8 429.9,371.7 432.2,371.9 434.4,372.4 436.7,372 439,371.5 440.9,370 443.2,369.6 445.3,368.6 447.5,367.9 450.3,368.1 452.9,367.3 455.6,366.5 458.3,366.6"/>
<path d="M466.3,323.4 464.8,325.1 463,326.7 462.7,329.3 460.4,330.5 460.3,333.2 458.6,334.8 457.3,336.7 455.6,338.3 454.5,340.9 454.2,343.7 456.6,345.7 459.6,346.3 459,348.5 459.5,350.8 458.3,353 459,355.3 459,357.6 458.3,359.8 457.6,362.1 458.1,364.3 458,366.6 458,368.8 457.5,371.1 458.3,373.3 458.9,375.4 458.8,377.8 459.6,379.9 459.9,382.1 461,384.1 461.1,386.8 460.6,389.5 460.9,392.2 461,394.9 462.2,397 463.2,399.3 463.6,401.7"/>
<path d="M466.3,323.4 466,320.9 464.5,318.7 465.4,316 463.6,313.9 463.6,311.3 463.1,308.8 463.6,306.5 465.3,304.3 464.7,301.8 464.7,299.4 464.8,297 465.2,294.7 466.3,292.4 467.7,290.4 468.7,288.2 470,286.1 471.1,284 471.9,281.7 473.6,279.8 476.2,279.3 478.1,277.7 480.6,277.1 482.4,275.4 484.7,274.9 486.9,273.9 488.4,271.6 491.1,271.8 493.2,270.9 495,269.2 497.6,269.5 499.9,267.7 502.4,267.4 504.9,266.9 507.5,267.1 508.2,264.6 510.8,263.2 511.7,260.8 511.9,257.9 511.3,255.2 510.7,252.4 512,250.5 512.5,248.3 512.7,246 513.8,244 512.6,241.5 512.1,238.9 512.7,236 511.7,233.5 511.9,230.6 512.8,227.8 513.8,225.1 515.3,222.9 516.3,220.4 518.2,218.6 520.1,216.7 521.5,214.8 523.7,213.6 525,211.5 526.6,209.8 528.5,208.3 531.7,205.6"/>
<path d="M539.6,205.7 537.6,208 537,211 537.4,213.4 537.2,215.9 537.9,218.2 539.3,220.5 539,223 539.3,225.4 539.6,227.8 539.6,230.4 540.7,232.8 540.5,235.4 541.2,237.9 541.7,240.4 542.9,242.3 542.5,244.8 544.5,246.5 544,249 545.7,250.7 545.9,253 547.4,255.6 547.8,258.5 548,261.4 548.7,263.7 549.4,266.1 552,267.5 552.3,270 551.6,272.4 550.9,274.9 550.2,277.3 548.1,279.4 548.7,282.2 550.2,284.7 550.2,287.4 549.1,289.9 547.4,291.3 545.8,292.9 543.5,293.7 542.4,295.8 539.9,296.3 538.6,298.3 537,300.2 535.3,301.8 532.9,302.8 531.3,304.6 529.2,305.7 527.4,307.3 525,307.8 522.4,308.8 520.4,310.8 517.6,311.3 515.4,310.6 513.1,310.5 510.9,310.1 508.6,310.2 506.3,310.4 504.1,309.9 502.4,311.4 500.6,312.8 498.7,314 497.2,316 497.6,318.8 495.4,320.5 495.8,323.3 494.7,325.4 493.3,327.5 491.3,328.9 488.7,329 486.8,330.7 484.8,332 482.5,332.9 480,331.4 477,331.5 474.4,330.2 472.3,328.6 470.4,326.8 468.6,324.8 466.3,323.4"/>
<path d="M550.2,277.9 552.7,278.1 555.1,277.8 557.5,277.1 560,276.9 562.4,276.4 564.9,276.8 566.7,278.6 569.1,279.4 570.6,281.5 572.3,283.5 574.3,285.2 576.6,282.9 579.6,281.5 582.1,282 584.3,283.2 586.9,283.4 589.5,282.8 591.9,281.3 594.7,281.1 597.1,280 599.8,279.6 602,278 604.1,280.2 605.5,283 604.2,285.8 602,288 604.7,289.3 607.1,291.2 609.2,290 611.2,288.7 612.7,286.7 614.7,285.1 617.2,284.5 619.4,283.5 621.6,283.3 623.9,283.1 626.2,283 628.4,282 630.7,282.2 633.2,281.4 635.6,280.6 638.4,281.3 640.8,280"/>
<path d="M596.3,237.2 594.7,238.9 594.3,241.4 591.9,242.5 591.8,245.2 590,246.7 589.1,248.9 587.2,250.5 586.4,252.8 585.4,254.9 584.8,257.2 583.7,259.3 583.1,261.6 581.6,263.5 580.7,266.2 580.8,269.3 579.5,271.9 580.7,273.8 581.1,276 581.6,278.2 580.1,280.9 577.4,282.4"/>
<path d="M581.6,263.5 584.4,262.6 587.3,262.6 590,261.4 592.2,261 594.2,260 596.4,259.5 598.4,258.5 600.3,257.3 602.6,257.2 601.9,259.8 601.7,262.5 600.6,265 600.5,267.7 603,268.9 605.8,268.6 608.4,269.4 611,269.8 612.4,267.9 613,265.5 613.7,263.3 615.2,261.4 617.7,262.2 620.1,262.9 622.7,263.1 625.2,263.4 627.8,263.5 630.3,264.3 633,264.3 635.6,264.5 638.2,264.5"/>
<path d="M538.6,298.9 541.3,300.1 543.9,301.5 545.7,303.4 547,305.7 546.8,308.3 547,310.9 549.4,309.2 552.3,308.8 553.6,307 555.5,305.6 556.5,303.6 559.2,302.9 561.7,301.5 563.5,300.1 564.9,298.3 566.8,296.9 569.1,296.2 571.3,297.7 573.3,299.4 576.5,299.8 579.6,300.4 582.1,302.2 584.8,303.6 586.3,305.5 587.5,307.5"/>
<path d="M587.5,307.5 589.5,306.3 591.5,305.3 592.6,302.9 594.7,301.9 596.8,303.5 599,305 601.5,305.9 603.8,306.8 606,308.1 608.2,309.2 610.8,308.8 612.4,306.3 615,305.9 617.3,304.8 619.2,303.1 621.7,302.5 624,302.5 626.3,302.4 628.5,301.3 630.7,300.8 633.2,301 635.2,302.5"/>
<path d="M587.5,307.5 588.7,310.1 590.2,312.6 591.8,314.9 593.6,317.1 593.6,319.8 594.3,322.4 594.7,325 592.9,326.5 591,328 589.6,330 588,331.7 589.2,333.9 590.2,336.2 591.6,338.3 594.3,338.8 595.9,340.7 598,342.1 600.4,343"/>
<path d="M590.2,312.6 592.8,313.3 595.2,314.7 598.1,314.5 600.4,316 601.9,318.1 604.4,318.6 606.7,319.6 608.2,321.6 610.7,322.8 612.8,324.5 615,326.1"/>
<path d="M463.6,401.7 465.1,399.7 467.4,398.9 469.3,397.5 471.5,396.5 473.1,394.7 474.9,393.2 477.1,392.2 479.2,390.9 481.8,390.8 484.1,390.2 486.1,388.6 488.2,387.3 490.6,386.8 492.1,388.8 494.5,390 496.6,391.4 498.5,393 500,395.1 502.8,395.1 505.6,394.7 508.2,393.7 510.1,395 512.3,395.9 514.3,397.2 516.6,397.8 518.1,400.1 520.5,400.5 522.9,400.6 525.3,401.4 527.6,402.1 530.1,401.9 531.4,403.9 533.5,405.1 535.3,406.6 536.7,408.5 538.4,410.1 540.8,409.6 543.1,411 545.5,410.4 547.9,410.8 550.5,412.1 553.5,411.8 556.2,412.9 558.7,414.8 561,417 559.7,419.5 557.9,421.6 556.2,423.8 555.8,426.3 555.1,428.7 553.4,430.7 550,432 549.9,434.3 550.8,436.6 550.7,438.9 552.4,440.5 553.7,442.4 554.8,444.4 556.5,445.9 558.2,447.3 559.6,449.1 561.2,450.6 563,451.9"/>
<path d="M554.8,444.4 550.7,445.8 548,446.7 545.2,447.1 542.6,448.6 541.1,451.2 540.5,453.5 541.9,455.8 541.1,458.1 539.7,460.8 541.4,463.2 543.8,464.9 542.7,467.6 542.5,470.4 542.5,473.2 542.2,475.6 540.7,477.6 538.4,478.6 536.7,480.3 535.4,482.6 533.5,484 531.1,484.8 529.6,487 529.3,489.5 528.8,492 531,493.1 533,494.3 534.9,495.8 536.7,497.4 538.3,499.2 540.7,499.7 543.1,499.2"/>
<path d="M463.6,401.7 461.5,400.9 459.3,400.2 457.9,398 455.6,397.6 453.3,397.9 451.6,399.7 449.3,400 448.6,402.5 449.1,405 448.8,407.6 449,410.1 449.3,412.6 446.6,413 444.2,414.2 441.9,415.7 441,418.1 441.7,420.7 440.9,423.1 441.4,425.3 442.4,427.3 442.8,429.5 444,431.5 442.7,434 440.6,436 439.8,438.8 440.2,441.2 441.2,443.5 441.8,445.8 441.9,448.3 440.5,450.3 438.3,451.5 436.9,453.6 434.6,454.6 432.1,454.2 429.5,454.4 427,453.4 424.5,452.9 422,452.5 419.5,453.1 416.8,453.1 414.6,455.2 411.8,454.4 409.4,455.6 406.9,456.3 404.3,456.8 401.8,457.2 399.2,457.6 396.8,458.8 395.3,460.6 393.5,462.3 391.2,463.3 390.6,466 388.4,467.2 386.1,468 383.9,469.2"/>
<path d="M427.2,407.3 443,407.3 443,416.4 427.2,416.4 427.2,407.3"/>
<path d="M278.4,445.2 280.5,444 281.9,441.7 284.5,441.2 286.6,439.9 288.8,438.8 290.4,436.8 292.7,436 295.4,436.6 297.6,435.4 300,434.9 302.4,434.4 304.2,435.9 306.8,435.4 308.4,437.3 310.5,438 312.8,438.4 314.5,440.1 316.8,440.4 319.2,439.8 321.6,439.6 324,439.2 326.4,440 328.6,441.2 331.1,441.6 332.9,439.7 335.2,438.5 337.3,437 339.5,435.6 339.4,438.4 338.9,441.2 339.5,444 335.9,445.2 338.1,446 340,447.5 342.3,448.3 344.7,447.8 347,448.2 349.3,448.4"/>
<path d="M349.3,448.4 349.6,452 352.3,451.9 355,452.6 352.6,456.2 355,458 359.2,458 361.6,460.4 364.3,461.6 367,462.8 369.4,464.7 372.4,465.2 374.9,466.3 377.3,467.3 380,467.6 383.9,469.2"/>
<path d="M383.9,469.2 384.2,471.6 384.2,474 384.2,476.4 383.9,478.8 382.3,480.5 380.7,482.2 379,483.9 378.5,486.5 376.1,487.5 374.4,489.1 373.3,491.3 371.9,493.1 371.4,495.8 369.8,498.1 369.1,500.7 367.1,502.7 366.1,504.7 363.7,505.6 362.6,507.6 361.1,509.2 359.5,510.8 357.9,512.3 356.9,514.3 355.4,516 354,517.7 352.7,519.5 350.5,520.4 348.6,521.8 346.5,522.8 345,524.7 342.6,525.3 340.7,526.7 339.2,529.1 337.1,531.3 335.9,533.9 335.6,536.5 334.6,538.9 333.9,541.4 332.3,543.5"/>
<path d="M383.9,478.8 386.2,478.7 388.4,478.4 390.5,477.4 392.6,476.6 395,476.8 397.2,477.9 399.6,478.3 402,478.3 404.5,478.2 406.8,478.7 409.2,479.3 411.5,479.8 413.5,481.3 415.1,483.2 416.7,485 419.1,484.2 421.6,483.6 423.4,481.2 426,480.9 428.3,479.8 430.8,479 433.3,479.2 435.9,480.3 438.4,479.9 440.9,479.8 441.3,482.2 443.1,484 444.8,485.7 445.1,488.2 445.5,490.8 445.4,493.5 445.1,496.1 446.1,498.7 447.8,500.5 450.3,500.8 452.5,501.7 454.5,502.9 455.2,505.5 454.3,508.1 455,510.8 454.5,513.4 455.7,515.5 456.6,517.8 457.2,520.1 456.8,522.7 457.7,524.9"/>
<path d="M457.7,524.9 460.1,523.5 463.2,524.1 465.4,521.8 468.2,521.7 470.8,521.7 472.8,519.9 475.2,519.1 477.9,519.7 480.1,518.3 482.7,518.5 485,517.5 487.3,516.2 489.8,515.1 492.6,515.5 495.1,514.6 497.5,513.4 500.1,513.2 502.5,512.2 504.5,510.4 507.2,510.5 509.7,509.8 512,508.7 514,507.7 516.3,507.4 517.8,505.4 520.3,505.5 522.2,504.1 524,502.8 526.5,502.3 528.9,502.6 531.1,504 533.5,504.5 536,503.6 538.4,504.3 540.7,505.3 543.1,505.2"/>
<path d="M482.9,517.5 485.3,518 486.8,520.1 489.2,520.6 491.3,521.7 490.9,524.6 489.2,527"/>
<path d="M352.7,519.5 355.1,519.5 357.5,520.1 359.9,520.1 362.3,520.8 364.7,520.7 367.2,520.5 369.4,522 371.9,521.7 374.3,522.5 376.7,522.9 379.1,523.1 381.5,523.4 383.9,523.7 386.2,524.8 388.6,525.4 391,525.6 393.5,525.5 396,525.8 398.5,525.5 401,526 403.2,527.3 404.4,529.6 404,532.1 404.9,534.5 405.1,536.9 406.3,539.2 406.2,541.6 406.8,544 407.3,546.8 408.7,549.1 410.2,551.3 411.6,553.6 414,553.5 416.4,554 418.7,555 421.2,554.4 423.6,554.8 423.8,557.9 424.7,560.8"/>
<path d="M340.7,578.5 343,579.1 345.2,579.9 347.5,580.2 349.9,579.7 352.3,579.6 354.5,580.4 356.8,581.1 359,581.8 361.2,582.5 363.6,582.4 365.7,583.4 368.2,582.3 370.2,584 372.4,584.3 374.6,584.7 377,584.6 379.2,584.8 379.6,582.3 381.4,580.2 381.6,577.6 383.9,577.8 386.1,577.3 388.4,577.4 390.6,576.1 392.8,575.4 395.1,575.9 397.4,576 399.6,575.2 401.8,574.6 404.2,575.4 406.4,575.5 408.6,574.2 410.9,574.7 413.2,574.7 415.5,574.2 417.7,573.6 420,574"/>
<path d="M339.5,592.4 341.8,592.1 344,593.1 346.3,593.3 348.6,592.9 350.9,592.4 353.1,593.7 355.3,593.8 357.7,593 359.9,593.6 362.2,594.8 364.3,596.3 366.6,597.4 369.2,597.9 371.5,598.9 373.8,600 375.5,601.5 377.8,602.3 379.6,603.7 381.5,605 382.8,607.1 384.8,608.2 387.2,609.9 389.3,612 391.6,613.7 394,613.9 396.4,614.4 398.9,614.2 401.2,615.1 404,617.8 403.2,620.3 401.2,621.9 399.9,626 402.6,627.4"/>
</g>
<path d="M17.5,278.9 18.6,276.3 20,273.9 20.4,271.6 21.8,269.8 22.5,267.6 24.1,265.9 26.3,265.1 28,263.7 30,262.6 29.9,260.4 30.8,258.4 30.7,256.2 31.6,254.2 31.6,252 32.5,250 32.7,247.7 33.7,245.6 34.8,243.6 35.1,241.3 36.6,239.9 38.4,239 40.4,238.4 42.4,237.8 43.9,236.4 45.5,235.2 47.6,234.8 48.8,232.8 51.1,232.7 52.6,231.3 54.5,230.5 56.4,229.8 58.3,229.2 60.3,228.9 62.4,228.9 64.2,227.6 66.2,227.5 68.2,227 70.1,226.3 72.2,226.5 74.3,227 76.5,226.7 78.7,227.1 80.7,227.9 89.5,176.3 88.2,174.5 87.5,172.4 86.6,170.6 85.2,169.1 84,167.5 83.1,165.7 81.9,164.1 80.6,162.5 79.7,160.7 80.3,158.3 80.4,155.8 80.1,153.3 80.7,150.9 83,150.8 85.3,150.6 87.6,150.9 89.9,150.6 92.1,149.9 94.4,150 95.4,147.7 95.3,145.1 93.1,144.5 91.4,143.1 88.8,143.5 86.2,143.5 83.6,144.1 83,142 83.2,139.8 82.5,137.7 83.1,135.5 82.7,133.4 108,132.4 109,129.5 111.2,130.3 113.5,130.6 115.8,131 118,129.7 119.5,127.5 121.6,126 123.1,128 124.8,129.7 126.5,131.4 126.7,134 127.2,136.6 127.5,139.2 128.9,140.8 130.5,142.1 132.5,142.9 134.1,144.4 136.2,145.1 137.4,146.9 139.2,148 141.4,148 143.5,148.2 145.7,147.8 147.7,146.9 149.9,147 151.9,149 153.8,147.4 155.8,146 157.5,144.8 158.5,142.9 160.4,141.9 161.7,140.3 163.5,139.2 165.3,137.8 167.2,136.8 169.5,136.6 171.1,135 173.3,134.4 174.6,132.8 176.3,131.6 178.2,130.8 179.1,128.7 181,127.7 182.6,126.5 184.1,125.1 186.2,123 184.2,122.1 182.1,121.8 180,121.3 177.7,121.6 175.7,120.9 172.6,118.8 172.2,116.7 171.9,114.6 172.2,112.4 171.5,110.4 172.4,108 171.8,105.5 172.6,103.1 171.2,101.5 170.2,99.8 169.2,98 168.4,96.1 167.4,94.3 166.3,92.6 168.8,92.7 171.2,92.7 173.6,93.6 175.3,95.1 176.8,96.8 178.9,97.1 181,97.7 183,98.6 185.2,98.7 187.3,98.9 189.4,99.6 191.5,100.4 193.6,101 195.4,99.5 196.4,97.4 198.7,96.5 200,94.5 202.3,94.6 204.5,94.5 206.8,94.2 209,93.6 210.7,92.6 212.5,91.7 214.2,90.5 216.2,90 218.6,89.4 220.8,88 223.4,87.7 224.8,85.4 226.7,83.6 228.8,81.9 229.3,79.5 230.6,77.4 233.3,76.5 236,76 238.6,77.2 240.5,79.2 240.4,81.3 239.5,83.1 238.9,85.1 237.8,86.8 240,87.5 242.2,88.1 244.1,89.5 244.5,91.6 245.5,93.4 246.8,95.1 247.2,97.2 246.5,99.1 245.4,100.9 244.3,102.7 243.2,104.4 243,107 241.6,109.4 241.4,112 240.8,113.6 240.7,115.8 241.8,117.8 242.2,119.9 243.1,121.9 243.6,124 243.7,126.2 244,128.3 245.8,129.7 246.9,131.7 249,132.7 250.3,134.6 252.5,135.7 253.6,138.2 255.8,139.4 257.6,140.9 260.1,139.5 262.9,138.8 265,138 266.9,136.6 269.2,136.3 271.5,136 273.4,134.6 275.7,133.9 277.7,132.7 279.5,131.2 281.7,130.4 283.8,129.9 285.8,129.3 288,129.3 290.1,129.6 292.2,129.3 294.3,129.3 296.4,129.6 298.5,129.1 300.5,129 302.6,129.3 303.7,127 304.6,124.6 304.7,122 306.9,121.9 308.9,120.9 311.2,121 313.5,120.7 315.8,120.3 318.1,119.5 320.4,119.5 322,121.3 323.6,123 325.7,123.3 327.9,123.3 330,123.7 332.1,124.4 334.1,125.1 336.1,124.1 338.4,123.9 340.4,123 342.4,124 344.6,123.8 346.6,124.8 348.7,125.3 350.9,125.1 353.3,124.2 355,122.2 357.2,120.9 358,118.9 359,117.1 360,115.2 361.4,113.6 362.1,111.6 363.6,110 365,108.3 366,106.5 366.6,104.4 367.9,102.7 369.1,100.9 369.8,98.9 370.7,96.5 372.6,94.8 374.1,92.9 375,90.5 376.6,91.8 378.4,92.8 380.3,93.6 380.9,96 381.7,98.3 381.5,100.8 382.4,103.1 383.1,105.2 383.1,107.4 383.4,109.5 384.6,111.5 385.1,113.6 385,115.8 385.8,117.9 386.6,119.9 388,121.8 389.1,123.9 390.1,126 390.8,128.3 392.6,130 394.8,131.2 397.3,131.8 399.2,133.5 401.2,136.7 400.2,138.7 399.3,140.7 399.2,143 397.5,144.3 396.2,146 394.4,147.3 393.2,149.1 391.7,150.6 389.4,151.2 388.1,152.9 386.6,154.5 384.9,156.2 382.8,157.5 381.5,159.6 379.7,161.2 381.9,160.6 383.9,159.6 385.7,157.9 387.7,157 389.9,156.3 391.9,157.9 393.7,159.7 395.3,161.7 397.5,162 399.8,161.7 402.1,162.1 404.3,161.9 406.5,162.9 408.8,162.6 411,162.6 413.2,162.9 415.3,163.3 417.5,163.8 419.7,163.4 421.9,164.2 424.1,163.9 424.3,166.4 424.5,168.9 423.4,171.3 422.4,173.7 421.4,176.1 420.5,178.6 418.7,180.6 422,178.5 423.4,176.8 425,175.2 427,173.1 429.5,171.6 431.4,170.4 433.8,170.7 435.8,169.8 437.9,169.7 439.8,170.4 443.4,170.4 445.2,171.3 447,172.2 448.9,173.1 451,173.5 453,174 455,174 457,174.4 459,174.6 460.8,177 462.9,178.3 465,179.4 467.3,180 469.7,180 471.8,181.1 473.3,183 475.1,184.3 476.9,185.4 479.3,185.1 481.7,185.4 483.5,186.4 485,187.8 485.5,190.2 486.6,192.4 487.5,195.1 488.4,197.8 486.2,197.6 484,197.5 481.2,198.7 483.5,200.1 486,201 484.5,203.3 484,206 483.7,208.1 483.2,210.1 483,212.2 484,210.1 485,208 488.4,206.8 489.2,204.9 490,203 492,202.4 493.8,201.4 496.5,200.9 499.2,200.5 501.1,199.8 503,199 505.6,198.8 508.2,198.7 509.9,200.1 512,200.5 514.6,201.2 517.2,201.4 520,203.5 522.1,204.2 524.4,204.1 528,205.5 530.6,206.7 533.4,206.8 535.4,206.1 537.5,206.1 539.6,205.7 541.8,206 543.8,205.7 545.9,204.7 548,204.4 550.1,204.7 552.2,205.1 554.4,205 556.5,205.7 558.6,205.9 560.6,206.8 562.3,208.2 564,209.5 565.7,210.8 568,211.3 569.5,213 571.3,214.2 573.2,215.2 575,216.2 576.1,218.2 577.6,219.6 579.7,220.2 580.7,222.2 582.7,223 584.2,224.4 585.8,225.7 587.1,227.3 588.8,228.4 590.9,228.9 592.4,230.3 594,231.5 595.7,232.5 597.4,233.6 599,234.9 600.5,236.2 602.5,237.3 604.9,237.3 606.8,238.8 608.9,239.5 611,240.4 613.1,239.8 615.2,240.2 617.3,240.5 619.4,240.4 621.5,240.4 623.7,240.1 625.6,241.5 627.8,241.5 629.9,241.4 630.8,243.5 633,244.6 634,246.7 634.9,248.7 635.8,250.7 635.6,253.1 636.8,255 637.2,257.2 637.9,259.2 637.8,261.4 637.5,263.6 638.2,265.6 638.6,267.8 640.1,269.7 641,271.8 641.4,274 640.7,276.1 640.9,278.2 640.6,280.3 641.1,282.4 640.4,284.5 640.8,286.6 639.9,288.6 640.1,290.7 640.4,292.8 639.3,294.8 639.7,296.9 638.7,298.9 637.6,300.8 637.5,303.2 635.7,304.8 635.2,307 633.9,308.8 631.6,309.5 630.2,311.2 628.5,312.6 626.4,314.5 624,316 622.8,317.6 621.3,319.1 620.9,321.2 619.5,322.7 618.3,324.5 616.5,325.7 615,327.2 613.5,328.6 611.9,329.8 610.1,330.9 608.2,331.7 607.1,333.6 605.5,335 603.7,336.2 602.8,338.6 601.7,340.8 600.4,343 598.8,344.6 597.9,346.7 597.7,349 596.4,351.3 594.8,353.3 593.3,355.5 592.2,357.4 590.7,358.9 589.7,360.8 587.9,362.1 586.6,363.8 585.4,365.4 583.5,366.5 580.2,367.6 578,368.7 576.2,370.2 574.7,372 574.4,374.1 574.2,376.3 575.1,378.4 575.3,380.7 574.8,383.5 574.2,386.2 573.7,388.4 574.7,390.6 573.8,392.8 574.2,395 574.2,397.1 574,399.2 574.5,401.5 574.5,403.8 575.5,406 575.8,408.3 576,410.7 576.7,412.9 575.7,414.8 576,417 575,419 574.7,421 574.3,423.1 574,425.2 573.8,427.2 573.6,429.2 573.6,431.2 573.2,433.2 573,435.2 571.8,437 572.1,439.1 571.9,441.1 571.2,443 569.9,445.1 567.5,446.2 565.8,447.9 564.4,449.9 564,451.9 564.2,454 564,456.1 563.7,458.1 563.3,460.2 563,462.2 563.1,464.5 562.5,466.6 562.4,468.8 561.3,470.9 561.6,473.2 559.7,475.2 558.8,477.7 557.5,480 556.6,482 554.6,483.3 554.1,485.5 552.7,487.2 551.4,488.8 550.2,490.5 548.5,491.6 547,493 545.5,494.4 544.7,496.8 544.2,499.3 543.1,501.6 542.9,503.7 543.2,505.9 542.7,508.1 542.6,510.2 541.9,512.3 539.8,513.1 537.8,514.3 535.6,515 533.3,515.4 531.1,515.9 530.2,517.9 528.7,519.4 527.5,521.3 526.4,523.1 524.2,523.3 522.2,523.8 520,524.2 517.9,524.5 515.9,525.5 513.8,526 511.6,525.7 509.6,526.7 507.1,526.8 504.8,525.8 502.4,525.6 500,525.5 498.3,526.9 496,527.1 494,528 492.3,529.2 490.4,530.3 488,530.6 485.7,531.1 483.5,532 482.2,533.7 480.3,534.8 478.7,536.2 476.8,537.3 475.3,538.7 473.9,540.4 471.7,540.9 469.7,542 467.5,542.5 465.6,543.6 463.5,544.5 461.7,545.8 459.5,546.4 457.7,547.8 455.6,548.5 453.4,549.1 451.5,550.3 449.1,550.3 447.1,551.5 445.1,552.4 443,553.5 441,554.7 439,555.8 437.1,557.2 435.4,558.9 433.1,559.6 430.5,560.5 428.3,562 426.8,563.8 425.9,566 424.7,568 422.9,569.8 421.1,571.6 420.5,573.6 420.9,575.7 420,577.6 420,580 420.8,582.4 421.3,584.7 421.1,587.2 421.6,589.2 421.2,591.2 422.1,593.2 421.6,595.2 421.5,597.3 422.3,599.2 422,601.6 421.8,604 421.4,606.4 421.1,608.8 419.7,610.5 418.5,612.2 417.5,614.1 416.4,616 414.7,617.3 413.5,619.3 411.9,620.7 410,621.9 408.7,623.8 406.8,625.2 405.7,627.2 404,628.8 402.6,630.8 401.7,633.2 400.3,635.2 398.5,637 397.9,639 396.6,640.6 395.7,642.5 395,644.4 393.6,646 392.7,648 391.2,649.5 390,651.3 388.7,653 387.2,654.7 386,656.7 383.7,657.8 382.8,660.1 381,661.6 378.8,662.3 376.9,663.6 375.6,665.7 373.4,666.4 371.7,667.6 369.8,668.5 368,669.5 366.6,671.2 365.2,672.7 363.8,674.1 362.7,676.2 361.5,678.2 359.9,679.9 358.7,681.9 358.8,684.3 357.7,686.3 357.1,688.5 355.9,690.2 354.1,691.2 352.2,692.2 351.3,694.3 349.3,695.1 348,696.7 346.5,698.1 343.1,696.2 343.8,693.8 343.6,691.4 345,689.8 345.7,687.7 347.5,686.4 348.2,684.4 349.4,682.7 352.3,683.7 355.6,681.8 357.1,678.9 355.8,676.7 355.6,674.1 355.5,676.2 354.2,677.9 351.8,678.9 349.4,679.9 347,679.5 344.6,678.9 343.1,677.1 341.7,675.3 340.8,673.1 338.7,671.7 336.8,670.1 335,668.4 333.4,666.7 330.9,666.2 329.5,664.1 327.7,662.6 325.6,661.6 323.1,661.2 321,659.5 318.4,659.2 316.9,657.6 315.4,656 313.2,655.1 311.6,653.6 310,652 307.4,652.3 304.8,652.3 303.8,650.4 302,649.3 300.4,648.1 299,646.6 297.6,645.1 295.7,644.1 293.7,643.2 291.9,641.9 290.4,640.3 287.9,640.3 285.6,641.4 283.2,641.5 279.6,640.3 281.6,639.3 282.8,637.2 284.5,635.8 286.3,634.5 288,633.1 289.3,631.2 291.1,629.8 293.2,628.7 294.7,627 296.3,625.4 297.6,623.5 299.1,622.1 300.7,620.8 302.1,619.3 303.1,617.4 304.7,616 305.4,614 307.2,612.8 309,611.4 310.4,609.6 312.2,608.2 313.7,606.5 315,604.6 316.8,603.2 318.1,601.6 320.3,601.2 321.6,599.6 323.8,598 326.3,597.2 328.7,596 330.8,595.1 332.9,594.3 335.3,594.1 337.5,593.7 339.5,592.4 339.4,590.3 340,588.3 339.8,586.2 340.3,584.2 340.2,582.1 340.1,580 340.7,578 339.2,576.1 338,574 337.6,571.5 336,569.6 333.6,569.6 331.1,569.6 328.5,568.1 326.4,566 327.5,564.1 328.2,562.2 328.1,560 328.4,557.9 329,555.9 330,554 330.1,551.9 331.1,550 330.5,547.9 329.9,545.7 330,543.5 327.5,542.6 325.2,541.1 323.1,541.6 320.9,541.5 318.7,541.4 316.5,541.8 314.4,542.3 313.1,540.6 312,538.7 311.6,536.7 311.3,534.6 310.8,532.6 310.4,530.5 309.8,528.5 309.7,526.4 309.6,524.3 309.3,521.7 307.6,519.6 307.2,517.1 305,516.2 302.9,515.2 300.9,514.1 298.4,514 296.4,512.8 294.2,513.2 292,513.3 289.8,513.3 287.6,513.3 285.4,512.8 283.2,513.5 281.1,512.8 278.9,512.6 276.7,513.4 274.5,513.1 272.4,512.3 272.8,510.2 273.1,508 272.7,505.8 273,503.7 272.4,501.5 273,499.3 273.8,497.2 273.8,495 273.9,492.9 273.6,490.7 273.2,488.6 271.5,487.2 270.5,485.5 270,483.5 271.5,481.5 273.6,480 272.4,478.2 271.2,476.4 272.2,474.5 273.3,472.6 273.8,470.5 274.6,468.5 275.5,466.5 276,464.4 276.3,462.4 276.9,460.4 276.7,458.3 277.9,456.5 277.7,454.3 278.4,452.4 278.9,450 278.4,447.6 277.8,445.1 276.6,442.9 276,440.4 274,439.6 272.2,438.2 270.7,436.7 268.8,435.6 267.8,433.9 266,432.7 265.2,430.8 264.9,428.6 265.7,426.5 266,424.3 266,422.1 266.4,420 265.9,419.1 237.1,419.1 236.6,417.1 236.8,415.1 235.9,413.2 236.1,411.1 236.1,409.1 235.9,407.1 234.7,404.8 232.8,403 231.1,401.1 233.5,399.9 234,397.8 233.5,395.8 233.2,393.7 233.2,391.7 234.1,389.6 233.7,387.6 233.5,385.5 232.5,383.6 231.4,381.7 231.1,379.5 229.2,378.8 227.4,377.9 225.4,377.4 223.4,376.9 221.6,375.9 219.2,375.7 216.8,375.4 214.4,376.2 212,375.9 209.3,374.5 207.2,372.3 205.2,371.5 203.3,370.5 201.5,369.3 199.4,368.9 197.6,367.6 196,366.1 194.2,365 192.2,364 190.4,362.8 188.4,362.4 186.8,360.8 184.6,360.9 182.9,359.6 180.8,359.2 178.4,359.2 176,358.9 173.6,358 171.2,358 169.1,356.8 167.7,354.7 165.4,353.7 163.3,352.5 161.6,350.8 160.4,349 159.7,346.9 159.1,344.9 158.5,342.8 156.7,341.2 156.1,339.2 155,337.3 154.4,335.2 155,333.2 154,331.2 153.9,329.2 153.9,327.2 154.3,325.2 154.4,323.2 154.3,321 153.6,318.9 152.9,316.8 152,314.8 149.8,314.4 147.6,314.6 145.4,315.5 143.2,315.8 141,315.6 138.8,315.8 136.9,316.7 135.1,318.2 132.9,318.3 130.8,319.5 128.9,321.1 126.9,322.4 124.8,323.6 122.8,324.5 120.9,325.3 118.9,326.2 116.7,326.3 114.8,327.9 112.7,329.1 110.3,329.9 108.6,331.7 107.2,333.3 105,333.7 103.9,335.6 102.2,336.6 100.5,337.7 97.8,335.8 95.7,335.4 93.6,335.4 91.5,335.9 89.4,336.3 87.3,335.8 85.2,336 83.1,335.3 81,336.2 78.9,335.8 76.8,335.6 74.9,334.6 72.7,335.3 70.8,334.4 70.8,332.3 71.4,330.3 71.5,328.2 70.7,326 70.8,324 71,321.9 72.1,319.9 71.5,317.7 72.2,315.7 72.5,313.6 72.1,311.5 70.2,312.8 68.2,314 65.8,314.4 64,315.9 62.2,317.4 60,318.3 57.7,318.2 55.4,318.8 53.2,318.9 50.9,319.4 48.6,318.6 46.3,319 46.1,316.9 45.2,315.1 44.9,313.1 43.8,311.4 41.6,311.8 39.5,311.4 37.4,310.9 35.3,310.2 33.1,310 30.9,310.5 28.8,310.2 29.8,307.9 31.2,306 32.5,303.9 31,302.2 29.9,300.1 27.7,298.9 26.8,296.7 25,295.2 24.3,293.1 23.3,291 22.3,289.1 21.1,287.1 20,285.2 19,283.2 18.1,281.1 17.5,278.9Z" fill="none" stroke="#000" stroke-width="1.25" stroke-linejoin="round"/>
<g fill="none" stroke="#000" stroke-width="1.9" stroke-linejoin="round" stroke-linecap="round">
<path d="M381.8,163.5 385.4,166.2 389,169.8 385.4,177 387.2,184.2 391.7,188.7 398,188.7 407,186 414.2,183.3 418.7,180.6 421.4,176.1"/>
<path d="M418.7,180.6 414.2,186 409.7,191.4 407.9,200 405.3,208 405.3,215"/>
<path d="M418.7,180.6 422,178.5 425,175.2 429.5,171.6"/>
<path d="M428,560 425,563 421.5,566 424,567.5 421,570 420.5,574"/>
<path d="M423.5,596.5 421.5,599.5 424,598.5 421,603"/>
<path d="M419.5,611 418,614.5"/>
<path d="M383.6,164.8 L382.6,166.1" stroke-width="1.1"/>
<path d="M386.3,167.1 L387.4,166" stroke-width="1.1"/>
<path d="M388.1,168.9 L386.6,170.4" stroke-width="1.1"/>
<path d="M388.4,171 L387,170.3" stroke-width="1.1"/>
<path d="M387.2,173.4 L389.1,174.3" stroke-width="1.1"/>
<path d="M386,175.8 L383.7,174.6" stroke-width="1.1"/>
<path d="M385.8,178.8 L387.4,178.4" stroke-width="1.1"/>
<path d="M386.8,182.4 L384.7,182.9" stroke-width="1.1"/>
<path d="M388.3,185.3 L387.2,186.5" stroke-width="1.1"/>
<path d="M390.6,187.6 L392.1,186.1" stroke-width="1.1"/>
<path d="M393.3,188.7 L393.3,187.1" stroke-width="1.1"/>
<path d="M396.4,188.7 L396.4,190.8" stroke-width="1.1"/>
<path d="M399.5,188.2 L400,189.8" stroke-width="1.1"/>
<path d="M402.5,187.3 L401.9,185.3" stroke-width="1.1"/>
<path d="M405.5,186.4 L406.2,188.9" stroke-width="1.1"/>
<path d="M408.2,185.6 L407.6,184.1" stroke-width="1.1"/>
<path d="M410.6,184.7 L411.3,186.6" stroke-width="1.1"/>
<path d="M413,183.8 L412.1,181.3" stroke-width="1.1"/>
<path d="M415.3,182.6 L416.1,184" stroke-width="1.1"/>
<path d="M417.6,181.3 L416.5,179.5" stroke-width="1.1"/>
<path d="M419.4,179.5 L418,178.7" stroke-width="1.1"/>
<path d="M420.7,177.2 L422.5,178.3" stroke-width="1.1"/>
<path d="M417.6,181.9 L416.3,180.9" stroke-width="1.1"/>
<path d="M415.3,184.7 L416.9,186" stroke-width="1.1"/>
<path d="M413.1,187.3 L414.3,188.4" stroke-width="1.1"/>
<path d="M410.8,190.1 L409.2,188.7" stroke-width="1.1"/>
<path d="M409.4,192.8 L407.8,192.5" stroke-width="1.1"/>
<path d="M408.8,195.7 L410.9,196.1" stroke-width="1.1"/>
<path d="M408.2,198.6 L405.7,198" stroke-width="1.1"/>
<path d="M407.5,201.3 L409,201.8" stroke-width="1.1"/>
<path d="M406.6,204 L404.6,203.4" stroke-width="1.1"/>
<path d="M405.7,206.7 L408.2,207.5" stroke-width="1.1"/>
<path d="M405.3,209.8 L403.7,209.8" stroke-width="1.1"/>
<path d="M405.3,213.2 L407.4,213.2" stroke-width="1.1"/>
<path d="M420.4,179.6 L421.2,180.9" stroke-width="1.1"/>
<path d="M423.5,176.8 L422.3,175.8" stroke-width="1.1"/>
<path d="M426.1,174.3 L427.1,175.5" stroke-width="1.1"/>
<path d="M428.4,172.5 L427.1,170.9" stroke-width="1.1"/>
<path d="M426.5,561.5 L425.4,560.4" stroke-width="1.1"/>
<path d="M423.2,564.5 L424.3,565.7" stroke-width="1.1"/>
<path d="M422.8,566.8 L421.9,568.1" stroke-width="1.1"/>
<path d="M422.5,568.8 L423.5,570" stroke-width="1.1"/>
<path d="M420.8,572 L419.2,571.8" stroke-width="1.1"/>
<path d="M422.5,598 L421.2,597.1" stroke-width="1.1"/>
<path d="M422.8,599 L422.2,597.5" stroke-width="1.1"/>
<path d="M423.2,599.6 L421.9,598.7" stroke-width="1.1"/>
<path d="M421.8,601.9 L423.5,603" stroke-width="1.1"/>
<path d="M418.8,612.8 L417.3,612.1" stroke-width="1.1"/>
</g>
<path d="M390.5,156 393,159.5 391.5,164 389,168 390,172 386,176 381,181.4 374.3,184.1 367.5,185.5 355.4,186.6 354.7,184.8 364.8,182.1 370.2,178.7 373.6,172 377,165.2 379,161.2 385.1,157.8Z" fill="#000"/>
<path d="M377,176 382.4,169.3 385.1,172 379.7,178.7Z" fill="#fff7aa"/>
<path d="M383.7,165.2 387.8,162.5 388.5,166.6 385.1,168.6Z" fill="#fff7aa"/>
<path d="M355.6,674.1 360.9,668.4 367.6,660.7 374.3,655.9 377.2,651.1 379.1,643.4 379.1,637.7 380.1,642.5 383.9,644.4 387.7,642.5 390.1,643.4 389.2,648.2 387.7,651.1 381,657.8 373.4,663.6 366.6,667.4 363.8,670.3" fill="none" stroke="#000" stroke-width="1.1" stroke-linejoin="round"/>
<path d="M168.9,165.3 L172,164.6" stroke="#222" stroke-width="0.7" fill="none"/>
<path d="M174,164.8 L177.2,165" stroke="#222" stroke-width="0.7" fill="none"/>
<path d="M160,167.8 L161.5,167.2" stroke="#222" stroke-width="0.7" fill="none"/>
<path d="M165,213 L167.2,213.8" stroke="#222" stroke-width="0.7" fill="none"/>
<path d="M222,197.5 L229,204.5" stroke="#222" stroke-width="0.7" fill="none"/>
<path d="M283,200.6 L286,201.3" stroke="#222" stroke-width="0.7" fill="none"/>
<path d="M344,189.2 L350,187.6" stroke="#222" stroke-width="0.7" fill="none"/>
<path d="M259,212.8 L261,212" stroke="#222" stroke-width="0.7" fill="none"/>
<ellipse cx="151.9" cy="201.3" rx="1" ry="1.5" fill="none" stroke="#222" stroke-width="0.6"/>
<path d="M319.5,193 L322,192.5 L324,194 L326,196.5 L324.5,197.8 L322.5,195.5 L320,194.5Z" fill="#3a6fe0" stroke="#123" stroke-width="0.5"/>
</svg>
<div style="position:absolute;left:0.00px;top:701px;width:33.35px;height:19px;background:#ffffff"></div>
<div style="position:absolute;left:33.35px;top:701px;width:33.35px;height:19px;background:#fff8b0"></div>
<div style="position:absolute;left:66.70px;top:701px;width:33.35px;height:19px;background:#fff8a8"></div>
<div style="position:absolute;left:100.05px;top:701px;width:33.35px;height:19px;background:#ffd878"></div>
<div style="position:absolute;left:133.40px;top:701px;width:33.35px;height:19px;background:#ffaa22"></div>
<div style="position:absolute;left:166.75px;top:701px;width:33.35px;height:19px;background:#c8cc50"></div>
<div style="position:absolute;left:200.10px;top:701px;width:33.35px;height:19px;background:#66dd77"></div>
<div style="position:absolute;left:233.45px;top:701px;width:33.35px;height:19px;background:#33c455"></div>
<div style="position:absolute;left:266.80px;top:701px;width:33.35px;height:19px;background:#2dbb3a"></div>
<div style="position:absolute;left:300.15px;top:701px;width:33.35px;height:19px;background:#008833"></div>
<div style="position:absolute;left:333.50px;top:701px;width:33.35px;height:19px;background:#007733"></div>
<div style="position:absolute;left:366.85px;top:701px;width:33.35px;height:19px;background:#006633"></div>
<div style="position:absolute;left:400.20px;top:701px;width:33.35px;height:19px;background:#4c9e8e"></div>
<div style="position:absolute;left:433.55px;top:701px;width:33.35px;height:19px;background:#99d4ff"></div>
<div style="position:absolute;left:466.90px;top:701px;width:33.35px;height:19px;background:#77b9f2"></div>
<div style="position:absolute;left:500.25px;top:701px;width:33.35px;height:19px;background:#5577ee"></div>
<div style="position:absolute;left:533.60px;top:701px;width:33.35px;height:19px;background:#3322ee"></div>
<div style="position:absolute;left:566.95px;top:701px;width:33.35px;height:19px;background:#2222cc"></div>
<div style="position:absolute;left:600.30px;top:701px;width:33.35px;height:19px;background:#7777bb"></div>
<div style="position:absolute;left:633.65px;top:701px;width:33.35px;height:19px;background:#555555"></div>
<div style="position:absolute;left:32.75px;top:701px;width:1.2px;height:19px;background:#000"></div>
<div style="position:absolute;left:66.10px;top:701px;width:1.2px;height:19px;background:#000"></div>
<div style="position:absolute;left:99.45px;top:701px;width:1.2px;height:19px;background:#000"></div>
<div style="position:absolute;left:132.80px;top:701px;width:1.2px;height:19px;background:#000"></div>
<div style="position:absolute;left:166.15px;top:701px;width:1.2px;height:19px;background:#000"></div>
<div style="position:absolute;left:199.50px;top:701px;width:1.2px;height:19px;background:#000"></div>
<div style="position:absolute;left:232.85px;top:701px;width:1.2px;height:19px;background:#000"></div>
<div style="position:absolute;left:266.20px;top:701px;width:1.2px;height:19px;background:#000"></div>
<div style="position:absolute;left:299.55px;top:701px;width:1.2px;height:19px;background:#000"></div>
<div style="position:absolute;left:332.90px;top:701px;width:1.2px;height:19px;background:#000"></div>
<div style="position:absolute;left:366.25px;top:701px;width:1.2px;height:19px;background:#000"></div>
<div style="position:absolute;left:399.60px;top:701px;width:1.2px;height:19px;background:#000"></div>
<div style="position:absolute;left:432.95px;top:701px;width:1.2px;height:19px;background:#000"></div>
<div style="position:absolute;left:466.30px;top:701px;width:1.2px;height:19px;background:#000"></div>
<div style="position:absolute;left:499.65px;top:701px;width:1.2px;height:19px;background:#000"></div>
<div style="position:absolute;left:533.00px;top:701px;width:1.2px;height:19px;background:#000"></div>
<div style="position:absolute;left:566.35px;top:701px;width:1.2px;height:19px;background:#000"></div>
<div style="position:absolute;left:599.70px;top:701px;width:1.2px;height:19px;background:#000"></div>
<div style="position:absolute;left:633.05px;top:701px;width:1.2px;height:19px;background:#000"></div>
<div class="lb" style="left:-1.20px">0</div>
<div class="lb" style="left:33.65px">0.5</div>
<div class="lb" style="left:67.00px">1</div>
<div class="lb" style="left:100.35px">3</div>
<div class="lb" style="left:133.70px">5</div>
<div class="lb" style="left:167.05px">7</div>
<div class="lb" style="left:200.40px">9</div>
<div class="lb" style="left:233.75px">12</div>
<div class="lb" style="left:267.10px">15</div>
<div class="lb" style="left:300.45px">20</div>
<div class="lb" style="left:333.80px">25</div>
<div class="lb" style="left:367.15px">30</div>
<div class="lb" style="left:400.50px">40</div>
<div class="lb" style="left:433.85px">50</div>
<div class="lb" style="left:467.20px">60</div>
<div class="lb" style="left:500.55px">80</div>
<div class="lb" style="left:533.90px">100</div>
<div class="lb" style="left:567.25px">125</div>
<div class="lb" style="left:600.60px">150</div>
<div class="lb" style="left:633.95px">200</div>
<div style="position:absolute;left:0;top:70px;width:1px;height:660px;background:#000"></div>
<div style="position:absolute;left:666px;top:70px;width:1px;height:660px;background:#000"></div>
<div style="position:absolute;left:0;top:729px;width:667px;height:1px;background:#000"></div>
<div style="position:absolute;left:0;top:701px;width:667px;height:1px;background:#000"></div>
<div style="position:absolute;left:0;top:720px;width:667px;height:1px;background:#000"></div>
<svg width="667" height="730" style="position:absolute;left:0;top:0">
<rect x="587" y="83" width="74" height="67.3" fill="#2e3190"/>
<rect x="587.5" y="83.5" width="73" height="66.3" fill="none" stroke="#1f2285" stroke-width="1"/>
<path d="M632.9,101.0 L624.7,90.2 L634.3,99.8 Z M636.2,98.9 L634.5,85.4 L638.0,98.5 Z M638.8,98.5 L642.0,85.3 L640.6,98.8 Z M642.6,99.7 L652.0,89.9 L644.0,100.9 Z M645.2,102.7 L658.3,99.0 L645.8,104.4 Z M645.9,107.2 L658.7,111.8 L645.4,108.9 Z M644.3,110.7 L653.1,121.1 L643.0,112.0 Z M634.5,99.6 L632.4,93.4 L635.9,99.0 Z M637.6,98.6 L638.3,92.0 L639.2,98.5 Z M640.9,98.9 L644.4,93.3 L642.3,99.6 Z M644.2,101.1 L650.0,98.0 L645.1,102.4 Z M645.9,105.0 L652.5,105.6 L646.0,106.6 Z M645.3,109.2 L650.5,113.2 L644.5,110.5 Z" fill="#f5d417"/>
<ellipse cx="638.5" cy="106.0" rx="7" ry="8.5" fill="#ffe01a"/>
<g fill="#2aa4e6"><circle cx="594.8" cy="110.9" r="5.5"/><circle cx="600.3" cy="106.9" r="6.5"/><circle cx="606.8" cy="105.4" r="6.5"/><circle cx="613.3" cy="104.9" r="6.5"/><circle cx="619.3" cy="104.9" r="6.5"/><circle cx="625.8" cy="108.4" r="7.0"/><circle cx="632.3" cy="113.4" r="6.5"/><circle cx="639.8" cy="118.9" r="6.5"/><circle cx="645.3" cy="123.4" r="6.5"/><circle cx="595.3" cy="118.4" r="5.5"/><circle cx="600.8" cy="122.9" r="5.5"/><circle cx="606.8" cy="123.9" r="5.3"/><circle cx="614.3" cy="125.9" r="5.5"/><circle cx="621.8" cy="126.4" r="5.5"/><circle cx="628.8" cy="125.9" r="5.5"/><circle cx="635.3" cy="127.4" r="6.0"/><circle cx="642.8" cy="128.4" r="6.0"/><ellipse cx="619.3" cy="116.9" rx="25" ry="9"/></g>
<g fill="#ffffff"><circle cx="595.5" cy="110.0" r="5.0"/><circle cx="601.0" cy="106.0" r="6.0"/><circle cx="607.5" cy="104.5" r="6.0"/><circle cx="614.0" cy="104.0" r="6.0"/><circle cx="620.0" cy="104.0" r="6.0"/><circle cx="626.5" cy="107.5" r="6.5"/><circle cx="633.0" cy="112.5" r="6.0"/><circle cx="640.5" cy="118.0" r="6.0"/><circle cx="646.0" cy="122.5" r="6.0"/><circle cx="596.0" cy="117.5" r="5.0"/><circle cx="601.5" cy="122.0" r="5.0"/><circle cx="607.5" cy="123.0" r="4.8"/><circle cx="615.0" cy="125.0" r="5.0"/><circle cx="622.5" cy="125.5" r="5.0"/><circle cx="629.5" cy="125.0" r="5.0"/><circle cx="636.0" cy="126.5" r="5.5"/><circle cx="643.5" cy="127.5" r="5.5"/><ellipse cx="620" cy="116" rx="25" ry="9"/></g>
<g fill="none" stroke="#2aa4e6" stroke-width="1.3" stroke-linecap="round"><path d="M601.5,110 q2,-5 7.5,-6"/><path d="M603,115.5 q3,3.5 8.5,3"/><path d="M626.9,110.5 q4,1.5 6,5"/><path d="M625.8,120.5 q3,2.5 6.5,2"/><path d="M636.6,116.4 q3,1 4.3,3.2"/><path d="M606,101.5 q2,-1 4,-0.5"/></g>
<text x="624.3" y="148.5" text-anchor="middle" font-family="Liberation Sans" font-weight="bold" font-size="17.3" fill="#fff">INMET</text>
</svg>
</body></html>
